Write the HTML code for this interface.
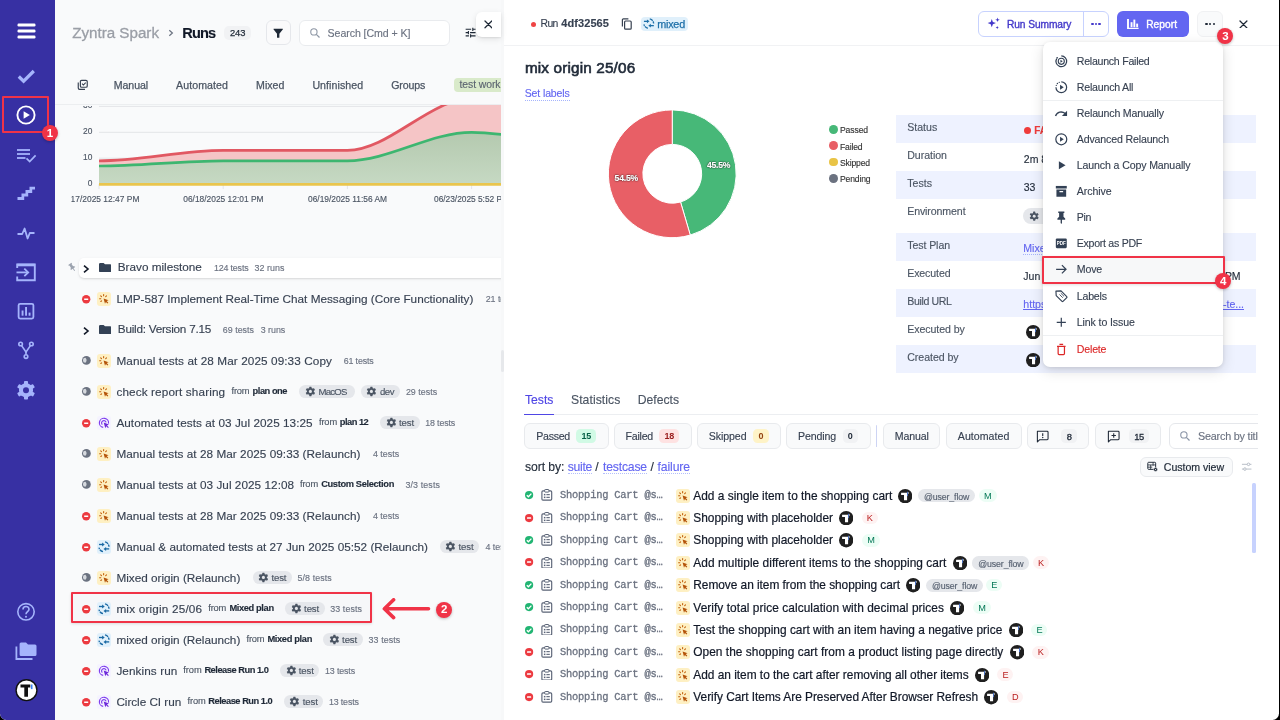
<!DOCTYPE html>
<html>
<head>
<meta charset="utf-8">
<title>Runs</title>
<style>
*{box-sizing:border-box;margin:0;padding:0}
html,body{width:1280px;height:720px;overflow:hidden;background:#000}
body{font-family:"Liberation Sans",sans-serif;color:#1f2937;position:relative}
.abs{position:absolute}
#app{position:absolute;left:0;top:0;width:1279px;height:720px;background:#fff;border-radius:0 0 6.5px 6.5px;overflow:hidden}
#side{position:absolute;left:0;top:0;width:55px;height:720px;background:#3730a3}
#side .badge{will-change:transform}
#leftbg{position:absolute;left:55px;top:0;width:446px;height:720px;background:#f9fafb}
#left{position:absolute;left:0;top:0;width:501px;height:720px;overflow:hidden;will-change:transform}
#split{position:absolute;left:500.5px;top:0;width:3.5px;height:720px;background:#f7f8f9}
#split i{position:absolute;left:.4px;top:349.8px;width:3.1px;height:22.4px;border-radius:1.6px;background:#e6e8eb}
#right{position:absolute;left:0;top:0;width:1258px;height:720px;overflow:hidden;will-change:transform}
#over{position:absolute;left:0;top:0;width:1279px;height:720px;will-change:transform}
#rightu{position:absolute;left:0;top:0;width:1279px;height:720px;will-change:transform}
.t{position:absolute;white-space:nowrap;line-height:1;-webkit-text-stroke:.14px}
.badge{position:absolute;width:16px;height:16px;border-radius:50%;background:#f03347;color:#fff;font-weight:bold;font-size:11.5px;line-height:16px;text-align:center;box-shadow:0 1px 3px rgba(0,0,0,.25)}
</style>
</head>
<body>
<div id="app">
<div id="leftbg"></div>
<div id="split"><i></i></div>
<div id="left">
<span class="t" style="left:72.20px;top:25.37px;font-size:15.2px;color:#9a9ea6;letter-spacing:-0.011px;-webkit-text-stroke:.3px;">Zyntra Spark</span>
<svg class="abs" style="left:168.00px;top:29.40px;" width="6" height="8" viewBox="0 0 6 8" fill="none"><path d="M1.3 1.2 L4.4 4 L1.3 6.8" stroke="#6b7280" stroke-width="1.2"/></svg>
<span class="t" style="left:182.30px;top:25.67px;font-size:14.6px;font-weight:700;color:#111827;letter-spacing:-0.871px;">Runs</span>
<div class="abs" style="left:224.40px;top:26.00px;width:26.90px;height:14.00px;background:#f1f2f4;border-radius:5px"></div>
<span class="t" style="left:229.90px;top:28.41px;font-size:9.4px;color:#1f2937;letter-spacing:0.015px;-webkit-text-stroke:.25px #1f2937;">243</span>
<div class="abs" style="left:265.50px;top:20.20px;width:25.20px;height:25.20px;background:#fafafb;border:1px solid #e5e7eb;border-radius:6px"></div>
<svg class="abs" style="left:271.90px;top:27.20px;" width="12.4" height="12.4" viewBox="0 0 24 24" fill="none"><path d="M3.2 3.5 H20.8 Q21.8 3.5 21.2 4.4 L14.3 13 V20.2 Q14.3 21 13.5 21 H10.5 Q9.7 21 9.7 20.2 V13 L2.8 4.4 Q2.2 3.5 3.2 3.5Z" fill="#1f2937"/></svg>
<div class="abs" style="left:299.00px;top:19.70px;width:150.60px;height:26.00px;background:#fff;border:1px solid #e9ebee;border-radius:6px"></div>
<svg class="abs" style="left:308.60px;top:27.30px;" width="12" height="12" viewBox="0 0 24 24" fill="none"><circle cx="9.8" cy="9.8" r="6.3" stroke="#8e97a5" stroke-width="2.2"/><path d="M14.6 14.6 L21 21" stroke="#8e97a5" stroke-width="2.4"/></svg>
<span class="t" style="left:327.60px;top:27.82px;font-size:10.6px;color:#6b7280;letter-spacing:-0.075px;">Search [Cmd + K]</span>
<svg class="abs" style="left:463.80px;top:26.10px;" width="13.2" height="13.2" viewBox="0 0 24 24" fill="none"><path d="M3 17v2h6v-2H3zM3 5v2h10V5H3zm10 16v-2h8v-2h-8v-2h-2v6h2zM7 9v2H3v2h4v2h2V9H7zm14 4v-2H11v2h10zm-6-4h2V7h4V5h-4V3h-2v6z" fill="#1f2937"/></svg>
<svg class="abs" style="left:77.20px;top:79.40px;" width="11.6" height="11.6" viewBox="0 0 24 24" fill="none"><path d="M2.6 7.5 V18.6 Q2.6 21.4 5.4 21.4 H16.5" stroke="#374151" stroke-width="2.4"/><rect x="7" y="2.8" width="14.2" height="14.2" rx="2.6" stroke="#374151" stroke-width="2.4"/><path d="M10.4 9.8 L13.2 12.6 L18 7.4" stroke="#374151" stroke-width="2.2"/></svg>
<span class="t" style="left:113.80px;top:79.82px;font-size:10.6px;color:#4b5563;letter-spacing:-0.092px;-webkit-text-stroke:.25px;">Manual</span>
<span class="t" style="left:176.10px;top:79.82px;font-size:10.6px;color:#4b5563;letter-spacing:0.072px;-webkit-text-stroke:.25px;">Automated</span>
<span class="t" style="left:256.10px;top:79.82px;font-size:10.6px;color:#4b5563;letter-spacing:-0.013px;-webkit-text-stroke:.25px;">Mixed</span>
<span class="t" style="left:312.40px;top:79.82px;font-size:10.6px;color:#4b5563;letter-spacing:0.074px;-webkit-text-stroke:.25px;">Unfinished</span>
<span class="t" style="left:391.20px;top:79.82px;font-size:10.6px;color:#4b5563;letter-spacing:-0.142px;-webkit-text-stroke:.25px;">Groups</span>
<div class="abs" style="left:454.00px;top:77.80px;width:66.00px;height:14.40px;background:#d9eaca;border-radius:4px"></div>
<span class="t" style="left:459.50px;top:79.82px;font-size:10.4px;color:#5b6470;letter-spacing:-0.075px;">test work</span>
<div class="abs" style="left:55px;top:104.1px;width:446px;height:110px;overflow:hidden;border-top:1px solid #eceef0">
<svg class="abs" style="left:0;top:0" width="446" height="110" viewBox="0 0 446 110" fill="none"><path d="M44.0 1.4 H446" stroke="#e3e5e8" stroke-width="1"/><path d="M44.0 27.3 H446" stroke="#e3e5e8" stroke-width="1"/><path d="M44.0 53.2 H446" stroke="#e3e5e8" stroke-width="1"/><path d="M44.0 79.1 H446" stroke="#e3e5e8" stroke-width="1"/><path d="M44.0 79.1 v5" stroke="#e3e5e8" stroke-width="1"/><path d="M168.2 79.1 v5" stroke="#e3e5e8" stroke-width="1"/><path d="M292.4 79.1 v5" stroke="#e3e5e8" stroke-width="1"/><path d="M416.6 79.1 v5" stroke="#e3e5e8" stroke-width="1"/><defs><clipPath id="cc"><rect x="44.0" y="-5" width="500" height="120"/></clipPath></defs><g clip-path="url(#cc)"><defs><linearGradient id="gg" x1="0" y1="0" x2="0" y2="1"><stop offset="0" stop-color="#b4c9af"/><stop offset="1" stop-color="#c6d9c3"/></linearGradient></defs><path d="M-80.2 55.8 C-38.8 55.8 2.6 55.8 44.0 55.8 C85.4 55.8 126.8 45.4 168.2 45.4 C209.6 45.4 251.0 45.4 292.4 45.4 C333.8 45.4 375.2 -6.4 416.6 -6.4 C458.0 -6.4 499.4 11.8 540.8 11.8 L540.8 79.1 L-80.2 79.1 Z" fill="#f5c5c6"/><path d="M-80.2 61.0 C-38.8 61.0 2.6 61.0 44.0 61.0 C85.4 61.0 126.8 55.8 168.2 55.8 C209.6 55.8 251.0 55.8 292.4 55.8 C333.8 55.8 375.2 27.3 416.6 27.3 C458.0 27.3 499.4 41.3 540.8 41.3 L540.8 79.1 L-80.2 79.1 Z" fill="url(#gg)"/><path d="M-80.2 55.8 C-38.8 55.8 2.6 55.8 44.0 55.8 C85.4 55.8 126.8 45.4 168.2 45.4 C209.6 45.4 251.0 45.4 292.4 45.4 C333.8 45.4 375.2 -6.4 416.6 -6.4 C458.0 -6.4 499.4 11.8 540.8 11.8" stroke="#e15862" stroke-width="2.7"/><path d="M-80.2 61.0 C-38.8 61.0 2.6 61.0 44.0 61.0 C85.4 61.0 126.8 55.8 168.2 55.8 C209.6 55.8 251.0 55.8 292.4 55.8 C333.8 55.8 375.2 27.3 416.6 27.3 C458.0 27.3 499.4 41.3 540.8 41.3" stroke="#3db670" stroke-width="2.7"/><path d="M44.0 79.4 H446" stroke="#e9c54d" stroke-width="2.7"/></g></svg>
</div>
<span class="t" style="left:83.10px;top:127.10px;font-size:8.4px;color:#4b5563;">20</span>
<span class="t" style="left:83.10px;top:153.10px;font-size:8.4px;color:#4b5563;">10</span>
<span class="t" style="left:87.75px;top:179.10px;font-size:8.4px;color:#4b5563;">0</span>
<div class="abs" style="left:80px;top:105.6px;width:14px;height:4px;overflow:hidden"><span class="t" style="left:3.1px;top:-4.6px;font-size:8.4px;color:#4b5563">30</span></div>
<span class="t" style="left:58.90px;top:195.30px;font-size:8.4px;color:#4b5563;letter-spacing:0.021px;clip-path:inset(0 0 0 12.6px);">06/17/2025 12:47 PM</span>
<span class="t" style="left:183.30px;top:195.30px;font-size:8.4px;color:#4b5563;letter-spacing:0.006px;">06/18/2025 12:01 PM</span>
<span class="t" style="left:308.00px;top:195.30px;font-size:8.4px;color:#4b5563;letter-spacing:-0.001px;">06/19/2025 11:56 AM</span>
<span class="t" style="left:434.00px;top:195.30px;font-size:8.4px;color:#4b5563;letter-spacing:-0.024px;">06/23/2025 5:52 PM</span>
<div class="abs" style="left:78.80px;top:258.00px;width:441.20px;height:20.00px;background:#fff;border-radius:5px;box-shadow:0 1px 3px rgba(0,0,0,.10),0 1px 2px rgba(0,0,0,.06)"></div>
<svg class="abs" style="left:67.25px;top:262.35px;" width="10.5" height="10.5" viewBox="0 0 24 24" fill="none"><g transform="rotate(-35 12 12)"><path d="M7.5 2.5 H16.5 V4.8 H15 V10.5 L18 13.8 V15.5 H13 V21 L12 22.5 L11 21 V15.5 H6 V13.8 L9 10.5 V4.8 H7.5 Z" fill="#9ca3af"/></g></svg>
<svg class="abs" style="left:81.80px;top:263.60px;" width="8" height="10" viewBox="0 0 8 10" fill="none"><path d="M2 1.6 L6 5 L2 8.4" stroke="#111827" stroke-width="1.6" stroke-linejoin="miter"/></svg>
<svg class="abs" style="left:99.00px;top:263.20px;" width="12.4" height="9.2" viewBox="0 0 12.4 9.2" fill="none"><path d="M0 1.3 Q0 0 1.3 0 H4.6 L6 1.3 H11.1 Q12.4 1.3 12.4 2.6 V7.9 Q12.4 9.2 11.1 9.2 H1.3 Q0 9.2 0 7.9Z" fill="#334155"/></svg>
<span class="t" style="left:117.80px;top:261.46px;font-size:11.75px;color:#374151;letter-spacing:-0.010px;">Bravo milestone</span>
<span class="t" style="left:213.90px;top:263.95px;font-size:8.9px;color:#6b7280;letter-spacing:-0.159px;">124 tests</span>
<span class="t" style="left:254.60px;top:263.95px;font-size:8.9px;color:#6b7280;letter-spacing:0.056px;">32 runs</span>
<svg class="abs" style="left:81.10px;top:293.55px;" width="10.4" height="10.4" viewBox="0 0 10.4 10.4" fill="none"><g transform="translate(1 1)"><circle cx="4.2" cy="4.2" r="4.2" fill="#ec3a40"/><rect x="2.1" y="3.45" width="4.2" height="1.5" rx="0.4" fill="#fff"/></g></svg><svg class="abs" style="left:97.10px;top:291.50px;" width="14" height="14" viewBox="0 0 14 14" fill="none"><rect width="14" height="14" rx="3" fill="#fef0c3"/><path d="M6.6 6.4 L11.6 8.2 L9.7 9.1 L11.3 10.8 L10.5 11.5 L8.9 9.9 L8 11.7Z" fill="#b45309"/><g stroke="#c2620c" stroke-width="1.1" stroke-linecap="round"><path d="M6.6 2.6v1.2"/><path d="M3.7 3.8l.8.8"/><path d="M2.6 6.7h1.2"/><path d="M3.8 9.5l.8-.7"/><path d="M9.5 3.8l-.8.8"/></g></svg>
<span class="t" style="left:116.40px;top:292.76px;font-size:11.75px;color:#374151;letter-spacing:0.003px;">LMP-587 Implement Real-Time Chat Messaging (Core Functionality)</span>
<span class="t" style="left:485.70px;top:294.95px;font-size:8.9px;color:#6b7280;letter-spacing:-0.037px;">21 tests</span>
<svg class="abs" style="left:81.80px;top:325.60px;" width="8" height="10" viewBox="0 0 8 10" fill="none"><path d="M2 1.6 L6 5 L2 8.4" stroke="#111827" stroke-width="1.6" stroke-linejoin="miter"/></svg>
<svg class="abs" style="left:99.00px;top:325.20px;" width="12.4" height="9.2" viewBox="0 0 12.4 9.2" fill="none"><path d="M0 1.3 Q0 0 1.3 0 H4.6 L6 1.3 H11.1 Q12.4 1.3 12.4 2.6 V7.9 Q12.4 9.2 11.1 9.2 H1.3 Q0 9.2 0 7.9Z" fill="#334155"/></svg>
<span class="t" style="left:117.80px;top:323.46px;font-size:11.75px;color:#374151;letter-spacing:-0.252px;">Build: Version 7.15</span>
<span class="t" style="left:222.70px;top:325.95px;font-size:8.9px;color:#6b7280;letter-spacing:0.038px;">69 tests</span>
<span class="t" style="left:260.70px;top:325.95px;font-size:8.9px;color:#6b7280;letter-spacing:-0.012px;">3 runs</span>
<svg class="abs" style="left:80.90px;top:355.35px;" width="10.8" height="10.8" viewBox="0 0 10.8 10.8" fill="none"><g transform="translate(1 1)"><circle cx="4.4" cy="4.4" r="4.4" fill="#6b7280"/><path d="M3.5000000000000004 1.7000000000000002 a2.5 2.5 0 1 0 0 5 a3.8 3.8 0 0 0 0 -5Z" fill="#d6d9de"/></g></svg><svg class="abs" style="left:97.10px;top:353.50px;" width="14" height="14" viewBox="0 0 14 14" fill="none"><rect width="14" height="14" rx="3" fill="#fef0c3"/><path d="M6.6 6.4 L11.6 8.2 L9.7 9.1 L11.3 10.8 L10.5 11.5 L8.9 9.9 L8 11.7Z" fill="#b45309"/><g stroke="#c2620c" stroke-width="1.1" stroke-linecap="round"><path d="M6.6 2.6v1.2"/><path d="M3.7 3.8l.8.8"/><path d="M2.6 6.7h1.2"/><path d="M3.8 9.5l.8-.7"/><path d="M9.5 3.8l-.8.8"/></g></svg>
<span class="t" style="left:116.40px;top:354.76px;font-size:11.75px;color:#374151;letter-spacing:0.087px;">Manual tests at 28 Mar 2025 09:33 Copy</span>
<span class="t" style="left:343.70px;top:356.95px;font-size:8.9px;color:#6b7280;letter-spacing:-0.149px;">61 tests</span>
<svg class="abs" style="left:80.90px;top:386.35px;" width="10.8" height="10.8" viewBox="0 0 10.8 10.8" fill="none"><g transform="translate(1 1)"><circle cx="4.4" cy="4.4" r="4.4" fill="#6b7280"/><path d="M3.5000000000000004 1.7000000000000002 a2.5 2.5 0 1 0 0 5 a3.8 3.8 0 0 0 0 -5Z" fill="#d6d9de"/></g></svg><svg class="abs" style="left:97.10px;top:384.50px;" width="14" height="14" viewBox="0 0 14 14" fill="none"><rect width="14" height="14" rx="3" fill="#fef0c3"/><path d="M6.6 6.4 L11.6 8.2 L9.7 9.1 L11.3 10.8 L10.5 11.5 L8.9 9.9 L8 11.7Z" fill="#b45309"/><g stroke="#c2620c" stroke-width="1.1" stroke-linecap="round"><path d="M6.6 2.6v1.2"/><path d="M3.7 3.8l.8.8"/><path d="M2.6 6.7h1.2"/><path d="M3.8 9.5l.8-.7"/><path d="M9.5 3.8l-.8.8"/></g></svg>
<span class="t" style="left:116.40px;top:385.76px;font-size:11.75px;color:#374151;letter-spacing:0.117px;">check report sharing</span>
<span class="t" style="left:231.50px;top:387.16px;font-size:9.3px;color:#4b5563;letter-spacing:-0.177px;">from</span><span class="t" style="left:252.60px;top:387.16px;font-size:9.3px;font-weight:700;color:#1f2937;letter-spacing:-0.479px;">plan one</span>
<div class="abs" style="left:299.00px;top:385.20px;width:55.60px;height:12.80px;background:#e5e7eb;border-radius:6.4px"></div>
<svg class="abs" style="left:304.50px;top:386.30px;" width="10.8" height="10.8" viewBox="0 0 24 24" fill="none"><g transform="translate(12 12)"><g fill="#4b5563"><circle r="7.6"/><rect x="-2.6" y="-10.6" width="5.2" height="21.2" rx="1"/><rect x="-2.6" y="-10.6" width="5.2" height="21.2" rx="1" transform="rotate(60)"/><rect x="-2.6" y="-10.6" width="5.2" height="21.2" rx="1" transform="rotate(120)"/></g><circle r="3.4" fill="#e5e7eb"/></g></svg>
<span class="t" style="left:318.40px;top:387.21px;font-size:9.6px;color:#4b5563;letter-spacing:-0.720px;">MacOS</span>
<div class="abs" style="left:360.90px;top:385.20px;width:39.10px;height:12.80px;background:#e5e7eb;border-radius:6.4px"></div>
<svg class="abs" style="left:366.40px;top:386.30px;" width="10.8" height="10.8" viewBox="0 0 24 24" fill="none"><g transform="translate(12 12)"><g fill="#4b5563"><circle r="7.6"/><rect x="-2.6" y="-10.6" width="5.2" height="21.2" rx="1"/><rect x="-2.6" y="-10.6" width="5.2" height="21.2" rx="1" transform="rotate(60)"/><rect x="-2.6" y="-10.6" width="5.2" height="21.2" rx="1" transform="rotate(120)"/></g><circle r="3.4" fill="#e5e7eb"/></g></svg>
<span class="t" style="left:379.90px;top:387.21px;font-size:9.6px;color:#4b5563;letter-spacing:-0.456px;">dev</span>
<span class="t" style="left:405.90px;top:387.95px;font-size:8.9px;color:#6b7280;letter-spacing:0.026px;">29 tests</span>
<svg class="abs" style="left:81.10px;top:417.55px;" width="10.4" height="10.4" viewBox="0 0 10.4 10.4" fill="none"><g transform="translate(1 1)"><circle cx="4.2" cy="4.2" r="4.2" fill="#ec3a40"/><rect x="2.1" y="3.45" width="4.2" height="1.5" rx="0.4" fill="#fff"/></g></svg><svg class="abs" style="left:97.10px;top:415.50px;" width="14" height="14" viewBox="0 0 14 14" fill="none"><rect width="14" height="14" rx="3" fill="#f5f3ff"/><g stroke="#7c3aed" stroke-width="1.15" fill="none"><path d="M6.2 11.4 A4.6 4.6 0 1 1 11.5 7.6"/><path d="M5.3 8.6 A2.3 2.3 0 1 1 9.1 6.3"/></g><path d="M6.7 6.6 L11.9 8.6 L10 9.5 L11.8 11.3 L11 12.1 L9.2 10.3 L8.3 12.2Z" fill="#6d28d9"/></svg>
<span class="t" style="left:116.40px;top:416.76px;font-size:11.75px;color:#374151;letter-spacing:0.045px;">Automated tests at 03 Jul 2025 13:25</span>
<span class="t" style="left:319.00px;top:418.16px;font-size:9.3px;color:#4b5563;letter-spacing:-0.152px;">from</span><span class="t" style="left:339.80px;top:418.16px;font-size:9.3px;font-weight:700;color:#1f2937;letter-spacing:-0.507px;">plan 12</span>
<div class="abs" style="left:380.20px;top:416.20px;width:39.40px;height:12.80px;background:#e5e7eb;border-radius:6.4px"></div><svg class="abs" style="left:385.70px;top:417.30px;" width="10.8" height="10.8" viewBox="0 0 24 24" fill="none"><g transform="translate(12 12)"><g fill="#4b5563"><circle r="7.6"/><rect x="-2.6" y="-10.6" width="5.2" height="21.2" rx="1"/><rect x="-2.6" y="-10.6" width="5.2" height="21.2" rx="1" transform="rotate(60)"/><rect x="-2.6" y="-10.6" width="5.2" height="21.2" rx="1" transform="rotate(120)"/></g><circle r="3.4" fill="#e5e7eb"/></g></svg><span class="t" style="left:399.00px;top:418.21px;font-size:9.6px;color:#4b5563;letter-spacing:-0.117px;">test</span>
<span class="t" style="left:425.20px;top:418.95px;font-size:8.9px;color:#6b7280;letter-spacing:-0.149px;">18 tests</span>
<svg class="abs" style="left:80.90px;top:448.35px;" width="10.8" height="10.8" viewBox="0 0 10.8 10.8" fill="none"><g transform="translate(1 1)"><circle cx="4.4" cy="4.4" r="4.4" fill="#6b7280"/><path d="M3.5000000000000004 1.7000000000000002 a2.5 2.5 0 1 0 0 5 a3.8 3.8 0 0 0 0 -5Z" fill="#d6d9de"/></g></svg><svg class="abs" style="left:97.10px;top:446.50px;" width="14" height="14" viewBox="0 0 14 14" fill="none"><rect width="14" height="14" rx="3" fill="#fef0c3"/><path d="M6.6 6.4 L11.6 8.2 L9.7 9.1 L11.3 10.8 L10.5 11.5 L8.9 9.9 L8 11.7Z" fill="#b45309"/><g stroke="#c2620c" stroke-width="1.1" stroke-linecap="round"><path d="M6.6 2.6v1.2"/><path d="M3.7 3.8l.8.8"/><path d="M2.6 6.7h1.2"/><path d="M3.8 9.5l.8-.7"/><path d="M9.5 3.8l-.8.8"/></g></svg>
<span class="t" style="left:116.40px;top:447.76px;font-size:11.75px;color:#374151;letter-spacing:0.040px;">Manual tests at 28 Mar 2025 09:33 (Relaunch)</span>
<span class="t" style="left:372.90px;top:449.95px;font-size:8.9px;color:#6b7280;letter-spacing:0.021px;">4 tests</span>
<svg class="abs" style="left:80.90px;top:479.35px;" width="10.8" height="10.8" viewBox="0 0 10.8 10.8" fill="none"><g transform="translate(1 1)"><circle cx="4.4" cy="4.4" r="4.4" fill="#6b7280"/><path d="M3.5000000000000004 1.7000000000000002 a2.5 2.5 0 1 0 0 5 a3.8 3.8 0 0 0 0 -5Z" fill="#d6d9de"/></g></svg><svg class="abs" style="left:97.10px;top:477.50px;" width="14" height="14" viewBox="0 0 14 14" fill="none"><rect width="14" height="14" rx="3" fill="#fef0c3"/><path d="M6.6 6.4 L11.6 8.2 L9.7 9.1 L11.3 10.8 L10.5 11.5 L8.9 9.9 L8 11.7Z" fill="#b45309"/><g stroke="#c2620c" stroke-width="1.1" stroke-linecap="round"><path d="M6.6 2.6v1.2"/><path d="M3.7 3.8l.8.8"/><path d="M2.6 6.7h1.2"/><path d="M3.8 9.5l.8-.7"/><path d="M9.5 3.8l-.8.8"/></g></svg>
<span class="t" style="left:116.40px;top:478.76px;font-size:11.75px;color:#374151;letter-spacing:0.040px;">Manual tests at 03 Jul 2025 12:08</span>
<span class="t" style="left:300.00px;top:480.16px;font-size:9.3px;color:#4b5563;letter-spacing:-0.152px;">from</span><span class="t" style="left:321.20px;top:480.16px;font-size:9.3px;font-weight:700;color:#1f2937;letter-spacing:-0.358px;">Custom Selection</span>
<span class="t" style="left:405.50px;top:480.95px;font-size:8.9px;color:#6b7280;letter-spacing:0.106px;">3/3 tests</span>
<svg class="abs" style="left:81.10px;top:510.55px;" width="10.4" height="10.4" viewBox="0 0 10.4 10.4" fill="none"><g transform="translate(1 1)"><circle cx="4.2" cy="4.2" r="4.2" fill="#ec3a40"/><rect x="2.1" y="3.45" width="4.2" height="1.5" rx="0.4" fill="#fff"/></g></svg><svg class="abs" style="left:97.10px;top:508.50px;" width="14" height="14" viewBox="0 0 14 14" fill="none"><rect width="14" height="14" rx="3" fill="#fef0c3"/><path d="M6.6 6.4 L11.6 8.2 L9.7 9.1 L11.3 10.8 L10.5 11.5 L8.9 9.9 L8 11.7Z" fill="#b45309"/><g stroke="#c2620c" stroke-width="1.1" stroke-linecap="round"><path d="M6.6 2.6v1.2"/><path d="M3.7 3.8l.8.8"/><path d="M2.6 6.7h1.2"/><path d="M3.8 9.5l.8-.7"/><path d="M9.5 3.8l-.8.8"/></g></svg>
<span class="t" style="left:116.40px;top:509.76px;font-size:11.75px;color:#374151;letter-spacing:0.040px;">Manual tests at 28 Mar 2025 09:33 (Relaunch)</span>
<span class="t" style="left:372.90px;top:511.95px;font-size:8.9px;color:#6b7280;letter-spacing:0.021px;">4 tests</span>
<svg class="abs" style="left:81.10px;top:541.55px;" width="10.4" height="10.4" viewBox="0 0 10.4 10.4" fill="none"><g transform="translate(1 1)"><circle cx="4.2" cy="4.2" r="4.2" fill="#ec3a40"/><rect x="2.1" y="3.45" width="4.2" height="1.5" rx="0.4" fill="#fff"/></g></svg><svg class="abs" style="left:97.10px;top:539.50px;" width="14" height="14" viewBox="0 0 14 14" fill="none"><rect width="14" height="14" rx="3" fill="#e0f0fb"/><g stroke="#1a69a4" stroke-width="1.35" fill="none"><path d="M2 4.5 H6"/><path d="M12.2 8.9 H8.2"/><path d="M8 1.9 A5.1 5.1 0 0 1 12 6.7" stroke-dasharray="3.6 0.7"/><path d="M6 11.6 A5.1 5.1 0 0 1 2 7.7" stroke-dasharray="3.6 0.7"/></g><path d="M5.1 2.5 L7.7 4.5 L5.1 6.5Z" fill="#1a69a4"/><path d="M9.1 6.9 L6.5 8.9 L9.1 10.9Z" fill="#1a69a4"/></svg>
<span class="t" style="left:116.40px;top:540.76px;font-size:11.75px;color:#374151;letter-spacing:0.012px;">Manual &amp; automated tests at 27 Jun 2025 05:52 (Relaunch)</span>
<div class="abs" style="left:439.70px;top:540.20px;width:39.40px;height:12.80px;background:#e5e7eb;border-radius:6.4px"></div><svg class="abs" style="left:445.20px;top:541.30px;" width="10.8" height="10.8" viewBox="0 0 24 24" fill="none"><g transform="translate(12 12)"><g fill="#4b5563"><circle r="7.6"/><rect x="-2.6" y="-10.6" width="5.2" height="21.2" rx="1"/><rect x="-2.6" y="-10.6" width="5.2" height="21.2" rx="1" transform="rotate(60)"/><rect x="-2.6" y="-10.6" width="5.2" height="21.2" rx="1" transform="rotate(120)"/></g><circle r="3.4" fill="#e5e7eb"/></g></svg><span class="t" style="left:458.50px;top:542.21px;font-size:9.6px;color:#4b5563;letter-spacing:-0.117px;">test</span>
<span class="t" style="left:485.40px;top:542.95px;font-size:8.9px;color:#6b7280;letter-spacing:0.021px;">4 tests</span>
<svg class="abs" style="left:80.90px;top:572.35px;" width="10.8" height="10.8" viewBox="0 0 10.8 10.8" fill="none"><g transform="translate(1 1)"><circle cx="4.4" cy="4.4" r="4.4" fill="#6b7280"/><path d="M3.5000000000000004 1.7000000000000002 a2.5 2.5 0 1 0 0 5 a3.8 3.8 0 0 0 0 -5Z" fill="#d6d9de"/></g></svg><svg class="abs" style="left:97.10px;top:570.50px;" width="14" height="14" viewBox="0 0 14 14" fill="none"><rect width="14" height="14" rx="3" fill="#fef0c3"/><path d="M6.6 6.4 L11.6 8.2 L9.7 9.1 L11.3 10.8 L10.5 11.5 L8.9 9.9 L8 11.7Z" fill="#b45309"/><g stroke="#c2620c" stroke-width="1.1" stroke-linecap="round"><path d="M6.6 2.6v1.2"/><path d="M3.7 3.8l.8.8"/><path d="M2.6 6.7h1.2"/><path d="M3.8 9.5l.8-.7"/><path d="M9.5 3.8l-.8.8"/></g></svg>
<span class="t" style="left:116.40px;top:571.76px;font-size:11.75px;color:#374151;letter-spacing:-0.008px;">Mixed origin (Relaunch)</span>
<div class="abs" style="left:252.60px;top:571.20px;width:39.40px;height:12.80px;background:#e5e7eb;border-radius:6.4px"></div><svg class="abs" style="left:258.10px;top:572.30px;" width="10.8" height="10.8" viewBox="0 0 24 24" fill="none"><g transform="translate(12 12)"><g fill="#4b5563"><circle r="7.6"/><rect x="-2.6" y="-10.6" width="5.2" height="21.2" rx="1"/><rect x="-2.6" y="-10.6" width="5.2" height="21.2" rx="1" transform="rotate(60)"/><rect x="-2.6" y="-10.6" width="5.2" height="21.2" rx="1" transform="rotate(120)"/></g><circle r="3.4" fill="#e5e7eb"/></g></svg><span class="t" style="left:271.40px;top:573.21px;font-size:9.6px;color:#4b5563;letter-spacing:-0.117px;">test</span>
<span class="t" style="left:297.60px;top:573.95px;font-size:8.9px;color:#6b7280;letter-spacing:0.061px;">5/8 tests</span>
<div class="abs" style="left:71.50px;top:593.00px;width:300.80px;height:30.40px;background:#f6f7f9"></div>
<svg class="abs" style="left:81.10px;top:603.55px;" width="10.4" height="10.4" viewBox="0 0 10.4 10.4" fill="none"><g transform="translate(1 1)"><circle cx="4.2" cy="4.2" r="4.2" fill="#ec3a40"/><rect x="2.1" y="3.45" width="4.2" height="1.5" rx="0.4" fill="#fff"/></g></svg><svg class="abs" style="left:97.10px;top:601.50px;" width="14" height="14" viewBox="0 0 14 14" fill="none"><rect width="14" height="14" rx="3" fill="#e0f0fb"/><g stroke="#1a69a4" stroke-width="1.35" fill="none"><path d="M2 4.5 H6"/><path d="M12.2 8.9 H8.2"/><path d="M8 1.9 A5.1 5.1 0 0 1 12 6.7" stroke-dasharray="3.6 0.7"/><path d="M6 11.6 A5.1 5.1 0 0 1 2 7.7" stroke-dasharray="3.6 0.7"/></g><path d="M5.1 2.5 L7.7 4.5 L5.1 6.5Z" fill="#1a69a4"/><path d="M9.1 6.9 L6.5 8.9 L9.1 10.9Z" fill="#1a69a4"/></svg>
<span class="t" style="left:116.40px;top:602.76px;font-size:11.75px;color:#374151;letter-spacing:0.184px;">mix origin 25/06</span>
<span class="t" style="left:208.30px;top:604.16px;font-size:9.3px;color:#4b5563;letter-spacing:-0.177px;">from</span><span class="t" style="left:229.40px;top:604.16px;font-size:9.3px;font-weight:700;color:#1f2937;letter-spacing:-0.375px;">Mixed plan</span>
<div class="abs" style="left:285.30px;top:602.20px;width:39.40px;height:12.80px;background:#e5e7eb;border-radius:6.4px"></div><svg class="abs" style="left:290.80px;top:603.30px;" width="10.8" height="10.8" viewBox="0 0 24 24" fill="none"><g transform="translate(12 12)"><g fill="#4b5563"><circle r="7.6"/><rect x="-2.6" y="-10.6" width="5.2" height="21.2" rx="1"/><rect x="-2.6" y="-10.6" width="5.2" height="21.2" rx="1" transform="rotate(60)"/><rect x="-2.6" y="-10.6" width="5.2" height="21.2" rx="1" transform="rotate(120)"/></g><circle r="3.4" fill="#e5e7eb"/></g></svg><span class="t" style="left:304.10px;top:604.21px;font-size:9.6px;color:#4b5563;letter-spacing:-0.117px;">test</span>
<span class="t" style="left:330.30px;top:604.95px;font-size:8.9px;color:#6b7280;letter-spacing:0.076px;">33 tests</span>
<svg class="abs" style="left:81.10px;top:634.55px;" width="10.4" height="10.4" viewBox="0 0 10.4 10.4" fill="none"><g transform="translate(1 1)"><circle cx="4.2" cy="4.2" r="4.2" fill="#ec3a40"/><rect x="2.1" y="3.45" width="4.2" height="1.5" rx="0.4" fill="#fff"/></g></svg><svg class="abs" style="left:97.10px;top:632.50px;" width="14" height="14" viewBox="0 0 14 14" fill="none"><rect width="14" height="14" rx="3" fill="#e0f0fb"/><g stroke="#1a69a4" stroke-width="1.35" fill="none"><path d="M2 4.5 H6"/><path d="M12.2 8.9 H8.2"/><path d="M8 1.9 A5.1 5.1 0 0 1 12 6.7" stroke-dasharray="3.6 0.7"/><path d="M6 11.6 A5.1 5.1 0 0 1 2 7.7" stroke-dasharray="3.6 0.7"/></g><path d="M5.1 2.5 L7.7 4.5 L5.1 6.5Z" fill="#1a69a4"/><path d="M9.1 6.9 L6.5 8.9 L9.1 10.9Z" fill="#1a69a4"/></svg>
<span class="t" style="left:116.40px;top:633.76px;font-size:11.75px;color:#374151;letter-spacing:-0.008px;">mixed origin (Relaunch)</span>
<span class="t" style="left:246.60px;top:635.16px;font-size:9.3px;color:#4b5563;letter-spacing:-0.252px;">from</span><span class="t" style="left:267.40px;top:635.16px;font-size:9.3px;font-weight:700;color:#1f2937;letter-spacing:-0.345px;">Mixed plan</span>
<div class="abs" style="left:323.30px;top:633.20px;width:39.40px;height:12.80px;background:#e5e7eb;border-radius:6.4px"></div><svg class="abs" style="left:328.80px;top:634.30px;" width="10.8" height="10.8" viewBox="0 0 24 24" fill="none"><g transform="translate(12 12)"><g fill="#4b5563"><circle r="7.6"/><rect x="-2.6" y="-10.6" width="5.2" height="21.2" rx="1"/><rect x="-2.6" y="-10.6" width="5.2" height="21.2" rx="1" transform="rotate(60)"/><rect x="-2.6" y="-10.6" width="5.2" height="21.2" rx="1" transform="rotate(120)"/></g><circle r="3.4" fill="#e5e7eb"/></g></svg><span class="t" style="left:342.10px;top:635.21px;font-size:9.6px;color:#4b5563;letter-spacing:-0.117px;">test</span>
<span class="t" style="left:368.60px;top:635.95px;font-size:8.9px;color:#6b7280;letter-spacing:0.076px;">33 tests</span>
<svg class="abs" style="left:81.10px;top:665.55px;" width="10.4" height="10.4" viewBox="0 0 10.4 10.4" fill="none"><g transform="translate(1 1)"><circle cx="4.2" cy="4.2" r="4.2" fill="#ec3a40"/><rect x="2.1" y="3.45" width="4.2" height="1.5" rx="0.4" fill="#fff"/></g></svg><svg class="abs" style="left:97.10px;top:663.50px;" width="14" height="14" viewBox="0 0 14 14" fill="none"><rect width="14" height="14" rx="3" fill="#f5f3ff"/><g stroke="#7c3aed" stroke-width="1.15" fill="none"><path d="M6.2 11.4 A4.6 4.6 0 1 1 11.5 7.6"/><path d="M5.3 8.6 A2.3 2.3 0 1 1 9.1 6.3"/></g><path d="M6.7 6.6 L11.9 8.6 L10 9.5 L11.8 11.3 L11 12.1 L9.2 10.3 L8.3 12.2Z" fill="#6d28d9"/></svg>
<span class="t" style="left:116.40px;top:664.76px;font-size:11.75px;color:#374151;letter-spacing:0.082px;">Jenkins run</span>
<span class="t" style="left:183.30px;top:666.16px;font-size:9.3px;color:#4b5563;letter-spacing:-0.077px;">from</span><span class="t" style="left:204.40px;top:666.16px;font-size:9.3px;font-weight:700;color:#1f2937;letter-spacing:-0.488px;">Release Run 1.0</span>
<div class="abs" style="left:280.00px;top:664.20px;width:39.40px;height:12.80px;background:#e5e7eb;border-radius:6.4px"></div><svg class="abs" style="left:285.50px;top:665.30px;" width="10.8" height="10.8" viewBox="0 0 24 24" fill="none"><g transform="translate(12 12)"><g fill="#4b5563"><circle r="7.6"/><rect x="-2.6" y="-10.6" width="5.2" height="21.2" rx="1"/><rect x="-2.6" y="-10.6" width="5.2" height="21.2" rx="1" transform="rotate(60)"/><rect x="-2.6" y="-10.6" width="5.2" height="21.2" rx="1" transform="rotate(120)"/></g><circle r="3.4" fill="#e5e7eb"/></g></svg><span class="t" style="left:298.80px;top:666.21px;font-size:9.6px;color:#4b5563;letter-spacing:-0.117px;">test</span>
<span class="t" style="left:325.00px;top:666.95px;font-size:8.9px;color:#6b7280;letter-spacing:-0.137px;">13 tests</span>
<svg class="abs" style="left:81.10px;top:696.55px;" width="10.4" height="10.4" viewBox="0 0 10.4 10.4" fill="none"><g transform="translate(1 1)"><circle cx="4.2" cy="4.2" r="4.2" fill="#ec3a40"/><rect x="2.1" y="3.45" width="4.2" height="1.5" rx="0.4" fill="#fff"/></g></svg><svg class="abs" style="left:97.10px;top:694.50px;" width="14" height="14" viewBox="0 0 14 14" fill="none"><rect width="14" height="14" rx="3" fill="#f5f3ff"/><g stroke="#7c3aed" stroke-width="1.15" fill="none"><path d="M6.2 11.4 A4.6 4.6 0 1 1 11.5 7.6"/><path d="M5.3 8.6 A2.3 2.3 0 1 1 9.1 6.3"/></g><path d="M6.7 6.6 L11.9 8.6 L10 9.5 L11.8 11.3 L11 12.1 L9.2 10.3 L8.3 12.2Z" fill="#6d28d9"/></svg>
<span class="t" style="left:116.40px;top:695.76px;font-size:11.75px;color:#374151;letter-spacing:-0.038px;">Circle CI run</span>
<span class="t" style="left:187.60px;top:697.16px;font-size:9.3px;color:#4b5563;letter-spacing:-0.177px;">from</span><span class="t" style="left:208.30px;top:697.16px;font-size:9.3px;font-weight:700;color:#1f2937;letter-spacing:-0.487px;">Release Run 1.0</span>
<div class="abs" style="left:283.90px;top:695.20px;width:39.40px;height:12.80px;background:#e5e7eb;border-radius:6.4px"></div><svg class="abs" style="left:289.40px;top:696.30px;" width="10.8" height="10.8" viewBox="0 0 24 24" fill="none"><g transform="translate(12 12)"><g fill="#4b5563"><circle r="7.6"/><rect x="-2.6" y="-10.6" width="5.2" height="21.2" rx="1"/><rect x="-2.6" y="-10.6" width="5.2" height="21.2" rx="1" transform="rotate(60)"/><rect x="-2.6" y="-10.6" width="5.2" height="21.2" rx="1" transform="rotate(120)"/></g><circle r="3.4" fill="#e5e7eb"/></g></svg><span class="t" style="left:302.70px;top:697.21px;font-size:9.6px;color:#4b5563;letter-spacing:-0.117px;">test</span>
<span class="t" style="left:328.90px;top:697.95px;font-size:8.9px;color:#6b7280;letter-spacing:-0.149px;">13 tests</span>
</div>
<div id="right">
<span class="t" style="left:524.90px;top:59.73px;font-size:15.3px;color:#1f2937;letter-spacing:0.151px;-webkit-text-stroke:.62px;">mix origin 25/06</span>
<span class="t" style="left:524.70px;top:88.07px;font-size:10.5px;color:#6366f1;letter-spacing:-0.113px;">Set labels</span>
<div class="abs" style="left:524.70px;top:100.20px;width:45.00px;height:1.00px;border-top:1px dotted #a5b4fc"></div>
<svg class="abs" style="left:0;top:0" width="900" height="260" viewBox="0 0 900 260" fill="none"><path d="M672.25 109.90 A63.9 63.9 0 0 1 690.27 235.11 L680.54 202.01 A29.4 29.4 0 0 0 672.25 144.40 Z" fill="#47b878" stroke="#fff" stroke-width="1"/><path d="M690.27 235.11 A63.9 63.9 0 1 1 672.25 109.90 L672.25 144.40 A29.4 29.4 0 1 0 680.54 202.01 Z" fill="#e85f66" stroke="#fff" stroke-width="1"/></svg><span class="t" style="left:706.90px;top:160.80px;font-size:8.6px;font-weight:700;color:#fff;letter-spacing:-0.215px;text-shadow:0 0 2px rgba(0,0,0,.75),0 0 1px rgba(0,0,0,.6);">45.5%</span><span class="t" style="left:614.60px;top:173.80px;font-size:8.6px;font-weight:700;color:#fff;letter-spacing:-0.195px;text-shadow:0 0 2px rgba(0,0,0,.75),0 0 1px rgba(0,0,0,.6);">54.5%</span><div class="abs" style="left:828.90px;top:124.90px;width:8.80px;height:8.80px;background:#47b878;border-radius:50%"></div><span class="t" style="left:840.00px;top:126.30px;font-size:8.6px;color:#333;letter-spacing:-0.112px;">Passed</span><div class="abs" style="left:828.90px;top:141.10px;width:8.80px;height:8.80px;background:#e85f66;border-radius:50%"></div><span class="t" style="left:840.00px;top:142.50px;font-size:8.6px;color:#333;letter-spacing:-0.151px;">Failed</span><div class="abs" style="left:828.90px;top:157.60px;width:8.80px;height:8.80px;background:#e9c446;border-radius:50%"></div><span class="t" style="left:840.00px;top:159.00px;font-size:8.6px;color:#333;letter-spacing:-0.152px;">Skipped</span><div class="abs" style="left:828.90px;top:173.90px;width:8.80px;height:8.80px;background:#6b7280;border-radius:50%"></div><span class="t" style="left:840.00px;top:175.30px;font-size:8.6px;color:#333;letter-spacing:-0.150px;">Pending</span>
<div class="abs" style="left:895.50px;top:114.50px;width:360.50px;height:28.00px;background:#eef2ff"></div>
<span class="t" style="left:907.20px;top:122.32px;font-size:10.6px;color:#4b5563;letter-spacing:-0.008px;">Status</span>
<span class="t" style="left:907.20px;top:150.32px;font-size:10.6px;color:#4b5563;letter-spacing:-0.043px;">Duration</span>
<div class="abs" style="left:895.50px;top:170.50px;width:360.50px;height:28.00px;background:#eef2ff"></div>
<span class="t" style="left:907.20px;top:178.32px;font-size:10.6px;color:#4b5563;letter-spacing:0.053px;">Tests</span>
<span class="t" style="left:907.20px;top:206.32px;font-size:10.6px;color:#4b5563;letter-spacing:-0.108px;">Environment</span>
<div class="abs" style="left:895.50px;top:232.50px;width:360.50px;height:28.00px;background:#eef2ff"></div>
<span class="t" style="left:907.20px;top:239.82px;font-size:10.6px;color:#4b5563;letter-spacing:-0.086px;">Test Plan</span>
<span class="t" style="left:907.20px;top:267.82px;font-size:10.6px;color:#4b5563;letter-spacing:-0.109px;">Executed</span>
<div class="abs" style="left:895.50px;top:288.50px;width:360.50px;height:28.00px;background:#eef2ff"></div>
<span class="t" style="left:907.20px;top:295.82px;font-size:10.6px;color:#4b5563;letter-spacing:-0.367px;">Build URL</span>
<span class="t" style="left:907.20px;top:323.82px;font-size:10.6px;color:#4b5563;letter-spacing:-0.065px;">Executed by</span>
<div class="abs" style="left:895.50px;top:344.50px;width:360.50px;height:28.00px;background:#eef2ff"></div>
<span class="t" style="left:907.20px;top:351.82px;font-size:10.6px;color:#4b5563;letter-spacing:-0.043px;">Created by</span>
<div class="abs" style="left:1023.80px;top:126.60px;width:7.60px;height:7.60px;background:#ef3b3b;border-radius:50%"></div>
<span class="t" style="left:1034.30px;top:125.61px;font-size:10px;font-weight:700;color:#ef3b3b;">FAILED</span>
<span class="t" style="left:1023.80px;top:153.57px;font-size:10.5px;color:#1f2937;">2m 8s</span>
<span class="t" style="left:1023.80px;top:181.57px;font-size:10.5px;color:#1f2937;letter-spacing:-0.144px;">33</span>
<div class="abs" style="left:1023.10px;top:208.00px;width:46.90px;height:15.70px;background:#e5e7eb;border-radius:8px"></div>
<svg class="abs" style="left:1029.20px;top:211.00px;" width="10.4" height="10.4" viewBox="0 0 24 24" fill="none"><g transform="translate(12 12)"><g fill="#4b5563"><circle r="7.6"/><rect x="-2.6" y="-10.6" width="5.2" height="21.2" rx="1"/><rect x="-2.6" y="-10.6" width="5.2" height="21.2" rx="1" transform="rotate(60)"/><rect x="-2.6" y="-10.6" width="5.2" height="21.2" rx="1" transform="rotate(120)"/></g><circle r="3.4" fill="#e5e7eb"/></g></svg>
<span class="t" style="left:1023.30px;top:242.62px;font-size:10.6px;color:#6366f1;">Mixed plan</span>
<div class="abs" style="left:1023.30px;top:253.60px;width:46.70px;height:1.00px;border-top:1px dotted #a5b4fc"></div>
<span class="t" style="left:1023.30px;top:271.17px;font-size:10.5px;color:#1f2937;">Jun 25, 2025</span>
<span class="t" style="left:1225.00px;top:271.17px;font-size:10.5px;color:#1f2937;letter-spacing:-0.375px;">PM</span>
<span class="t" style="left:1023.30px;top:298.62px;font-size:10.6px;color:#6366f1;">https:</span>
<div class="abs" style="left:1023.30px;top:309.40px;width:36.70px;height:1.00px;background:#6366f1"></div>
<span class="t" style="left:1223.00px;top:298.62px;font-size:10.6px;color:#6366f1;letter-spacing:-0.034px;">-te...</span>
<div class="abs" style="left:1223.00px;top:309.40px;width:21.00px;height:1.00px;background:#6366f1"></div>
<svg class="abs" style="left:1025.80px;top:324.90px;" width="14.4" height="14.4" viewBox="-7.2 -7.2 14.4 14.4" fill="none"><circle r="7.2" fill="#1f1f1f"/><path d="M-4.1 -3.5 H1.9 V4.1 H-1.2 V-1.2 H-4.1Z" fill="#fff"/><rect x="1.9" y="-4.5" width=".8" height="4.4" fill="#4f7fe0"/><rect x="3.1" y="-4" width=".6" height="1.6" fill="#fff"/></svg>
<svg class="abs" style="left:1025.80px;top:353.00px;" width="14.4" height="14.4" viewBox="-7.2 -7.2 14.4 14.4" fill="none"><circle r="7.2" fill="#1f1f1f"/><path d="M-4.1 -3.5 H1.9 V4.1 H-1.2 V-1.2 H-4.1Z" fill="#fff"/><rect x="1.9" y="-4.5" width=".8" height="4.4" fill="#4f7fe0"/><rect x="3.1" y="-4" width=".6" height="1.6" fill="#fff"/></svg>
<div class="abs" style="left:524.40px;top:414.00px;width:733.60px;height:1.00px;background:#eceef1"></div>
<span class="t" style="left:525.00px;top:394.04px;font-size:12.2px;color:#4f46e5;letter-spacing:-0.011px;">Tests</span>
<div class="abs" style="left:524.40px;top:413.60px;width:29.40px;height:1.60px;background:#4f46e5"></div>
<span class="t" style="left:571.00px;top:394.04px;font-size:12.2px;color:#4b5563;letter-spacing:0.053px;">Statistics</span>
<span class="t" style="left:637.80px;top:394.04px;font-size:12.2px;color:#4b5563;letter-spacing:-0.018px;">Defects</span>
<div class="abs" style="left:524.20px;top:423.10px;width:84.60px;height:25.50px;background:#f9fafb;border:1px solid #e8eaed;border-radius:6px"></div><span class="t" style="left:536.30px;top:430.82px;font-size:10.6px;color:#374151;letter-spacing:-0.274px;">Passed</span><div class="abs" style="left:576.30px;top:429.40px;width:20.00px;height:13.60px;background:#d1fae5;border-radius:4.5px"></div><span class="t" style="left:581.50px;top:431.80px;font-size:9px;font-weight:700;color:#065f46;letter-spacing:-0.208px;-webkit-text-stroke:0;">15</span>
<div class="abs" style="left:613.60px;top:423.10px;width:78.20px;height:25.50px;background:#f9fafb;border:1px solid #e8eaed;border-radius:6px"></div><span class="t" style="left:625.60px;top:430.82px;font-size:10.6px;color:#374151;letter-spacing:-0.243px;">Failed</span><div class="abs" style="left:659.00px;top:429.40px;width:20.40px;height:13.60px;background:#fee2e2;border-radius:4.5px"></div><span class="t" style="left:664.40px;top:431.80px;font-size:9px;font-weight:700;color:#991b1b;letter-spacing:-0.208px;-webkit-text-stroke:0;">18</span>
<div class="abs" style="left:696.70px;top:423.10px;width:84.30px;height:25.50px;background:#f9fafb;border:1px solid #e8eaed;border-radius:6px"></div><span class="t" style="left:708.80px;top:430.82px;font-size:10.6px;color:#374151;letter-spacing:-0.085px;">Skipped</span><div class="abs" style="left:752.80px;top:429.40px;width:16.20px;height:13.60px;background:#fef3c7;border-radius:4.5px"></div><span class="t" style="left:758.50px;top:431.80px;font-size:9px;font-weight:700;color:#92400e;letter-spacing:-0.216px;-webkit-text-stroke:0;">0</span>
<div class="abs" style="left:786.00px;top:423.10px;width:84.60px;height:25.50px;background:#f9fafb;border:1px solid #e8eaed;border-radius:6px"></div><span class="t" style="left:798.00px;top:430.82px;font-size:10.6px;color:#374151;letter-spacing:-0.127px;">Pending</span><div class="abs" style="left:842.50px;top:429.40px;width:15.50px;height:13.60px;background:#f1f2f4;border-radius:4.5px"></div><span class="t" style="left:847.85px;top:431.80px;font-size:9px;font-weight:700;color:#1f2937;letter-spacing:-0.216px;-webkit-text-stroke:0;">0</span>
<div class="abs" style="left:875.60px;top:425.20px;width:1.90px;height:21.60px;background:#cdd4f4;border-radius:1px"></div>
<div class="abs" style="left:882.80px;top:423.10px;width:57.50px;height:25.50px;background:#f9fafb;border:1px solid #e8eaed;border-radius:6px"></div>
<span class="t" style="left:894.70px;top:430.82px;font-size:10.6px;color:#374151;letter-spacing:-0.108px;">Manual</span>
<div class="abs" style="left:946.00px;top:423.10px;width:75.80px;height:25.50px;background:#f9fafb;border:1px solid #e8eaed;border-radius:6px"></div>
<span class="t" style="left:957.80px;top:430.82px;font-size:10.6px;color:#374151;letter-spacing:0.039px;">Automated</span>
<div class="abs" style="left:1027.00px;top:423.10px;width:62.30px;height:25.50px;background:#f9fafb;border:1px solid #e8eaed;border-radius:6px"></div>
<svg class="abs" style="left:1036.20px;top:429.50px;" width="13.2" height="13.2" viewBox="0 0 21 21" fill="none"><path d="M2.2 2 H17.8 Q19.2 2 19.2 3.4 V14 Q19.2 15.4 17.8 15.4 H6 L2.2 19 V3.4 Q2.2 2 2.2 2Z" stroke="#1f2937" stroke-width="1.7" stroke-linejoin="round"/><path d="M10.7 5.2v4.4" stroke="#1f2937" stroke-width="1.8"/><circle cx="10.7" cy="12" r="1.1" fill="#1f2937"/></svg>
<div class="abs" style="left:1061.30px;top:429.40px;width:16.20px;height:13.60px;background:#f1f2f4;border-radius:4.5px"></div>
<span class="t" style="left:1066.80px;top:431.61px;font-size:9.4px;color:#1f2937;-webkit-text-stroke:.3px;">8</span>
<div class="abs" style="left:1094.80px;top:423.10px;width:66.10px;height:25.50px;background:#f9fafb;border:1px solid #e8eaed;border-radius:6px"></div>
<svg class="abs" style="left:1106.90px;top:429.50px;" width="13.2" height="13.2" viewBox="0 0 21 21" fill="none"><path d="M2.2 2 H17.8 Q19.2 2 19.2 3.4 V14 Q19.2 15.4 17.8 15.4 H6 L2.2 19 V3.4 Q2.2 2 2.2 2Z" stroke="#1f2937" stroke-width="1.7" stroke-linejoin="round"/><path d="M10.7 5.2v7M7.2 8.7h7" stroke="#1f2937" stroke-width="1.7"/></svg>
<div class="abs" style="left:1128.80px;top:429.40px;width:20.00px;height:13.60px;background:#f1f2f4;border-radius:4.5px"></div>
<span class="t" style="left:1134.20px;top:431.61px;font-size:9.4px;color:#1f2937;letter-spacing:-0.519px;-webkit-text-stroke:.3px;">15</span>
<div class="abs" style="left:1169.40px;top:423.10px;width:130.60px;height:25.50px;background:#fff;border:1px solid #e5e7eb;border-radius:6px"></div>
<svg class="abs" style="left:1178.80px;top:430.20px;" width="12" height="12" viewBox="0 0 24 24" fill="none"><circle cx="9.8" cy="9.8" r="6.3" stroke="#8a94a6" stroke-width="2.2"/><path d="M14.6 14.6 L21 21" stroke="#8a94a6" stroke-width="2.4"/></svg>
<span class="t" style="left:1198.00px;top:430.92px;font-size:10.8px;color:#6b7280;letter-spacing:-0.201px;">Search by title</span>
<span class="t" style="left:525.00px;top:461.04px;font-size:12.2px;color:#1f2937;letter-spacing:-0.071px;">sort by:</span>
<span class="t" style="left:567.80px;top:461.04px;font-size:12.2px;color:#6366f1;letter-spacing:-0.330px;">suite</span>
<div class="abs" style="left:567.80px;top:473.40px;width:24.10px;height:1.00px;border-top:1px dotted #b4bffc"></div>
<span class="t" style="left:595.30px;top:461.04px;font-size:12.2px;color:#1f2937;">/</span>
<span class="t" style="left:603.00px;top:461.04px;font-size:12.2px;color:#6366f1;letter-spacing:-0.186px;">testcase</span>
<div class="abs" style="left:603.00px;top:473.40px;width:43.90px;height:1.00px;border-top:1px dotted #b4bffc"></div>
<span class="t" style="left:650.60px;top:461.04px;font-size:12.2px;color:#1f2937;">/</span>
<span class="t" style="left:657.50px;top:461.04px;font-size:12.2px;color:#6366f1;letter-spacing:-0.100px;">failure</span>
<div class="abs" style="left:657.50px;top:473.40px;width:32.50px;height:1.00px;border-top:1px dotted #b4bffc"></div>
<div class="abs" style="left:1140.30px;top:457.40px;width:92.70px;height:19.60px;background:#f9fafb;border:1px solid #e8eaed;border-radius:6px"></div>
<svg class="abs" style="left:1146.80px;top:461.40px;" width="11" height="11" viewBox="0 0 21 21" fill="none"><rect x="1.5" y="2.5" width="15" height="13.5" rx="1.6" stroke="#1f2937" stroke-width="1.8"/><path d="M1.5 7.5H16.5M1.5 11.8H10M7 7.5V16M11.6 2.5V9" stroke="#1f2937" stroke-width="1.5"/><circle cx="16.3" cy="16.3" r="3.8" fill="#1f2937" stroke="#f9fafb" stroke-width="1"/><circle cx="16.3" cy="16.3" r="1.2" fill="#f9fafb"/></svg>
<span class="t" style="left:1163.80px;top:461.92px;font-size:10.6px;color:#1f2937;letter-spacing:-0.040px;-webkit-text-stroke:.2px #1f2937;">Custom view</span>
<svg class="abs" style="left:1240.60px;top:461.40px;" width="11.4" height="11.4" viewBox="0 0 24 24" fill="none"><g stroke="#a3aab6" stroke-width="1.6"><path d="M2 7H12.6M19 7H22M2 17H5M11.4 17H22"/><circle cx="15.8" cy="7" r="2.7"/><circle cx="8.2" cy="17" r="2.7"/></g></svg>
<div class="abs" style="left:1252.40px;top:483.00px;width:3.20px;height:70.40px;background:#c7d2fe;border-radius:1.5px"></div>
<svg class="abs" style="left:524.20px;top:490.20px;" width="10.2" height="10.2" viewBox="0 0 10.2 10.2" fill="none"><g transform="translate(1 1)"><circle cx="4.1" cy="4.1" r="4.1" fill="#22b573"/><path d="M1.7999999999999998 4.199999999999999 l1.6 1.6 l3 -3.2" stroke="#fff" stroke-width="1.3"/></g></svg>
<svg class="abs" style="left:541.20px;top:489.30px;" width="11.6" height="11.8" viewBox="0 0 11.6 11.8" fill="none"><rect x=".9" y="1.9" width="9.8" height="9.2" rx="1.1" stroke="#5a6376" stroke-width="1.15"/><rect x="3.7" y=".5" width="4.2" height="2.6" rx=".6" fill="#fff" stroke="#5a6376" stroke-width="1"/><g fill="#5a6376"><rect x="2.9" y="4.9" width="1.5" height="1.5"/><rect x="5.4" y="5.1" width="3.4" height="1.1"/><rect x="2.9" y="7.6" width="1.5" height="1.5"/><rect x="5.4" y="7.8" width="3.4" height="1.1"/></g></svg>
<span class="t" style="left:560.00px;top:490.02px;font-size:10.4px;font-family:'Liberation Mono',monospace;color:#6b7280;letter-spacing:-0.207px;-webkit-text-stroke:.3px #6b7280;">Shopping Cart @s…</span>
<svg class="abs" style="left:676.10px;top:488.50px;" width="14" height="14" viewBox="0 0 14 14" fill="none"><rect width="14" height="14" rx="3" fill="#fef0c3"/><path d="M6.6 6.4 L11.6 8.2 L9.7 9.1 L11.3 10.8 L10.5 11.5 L8.9 9.9 L8 11.7Z" fill="#b45309"/><g stroke="#c2620c" stroke-width="1.1" stroke-linecap="round"><path d="M6.6 2.6v1.2"/><path d="M3.7 3.8l.8.8"/><path d="M2.6 6.7h1.2"/><path d="M3.8 9.5l.8-.7"/><path d="M9.5 3.8l-.8.8"/></g></svg>
<span class="t" style="left:693.30px;top:490.69px;font-size:11.9px;color:#111827;letter-spacing:0.001px;-webkit-text-stroke:.2px;">Add a single item to the shopping cart</span>
<svg class="abs" style="left:898.10px;top:488.60px;" width="14.4" height="14.4" viewBox="-7.2 -7.2 14.4 14.4" fill="none"><circle r="7.2" fill="#1f1f1f"/><path d="M-4.1 -3.5 H1.9 V4.1 H-1.2 V-1.2 H-4.1Z" fill="#fff"/><rect x="1.9" y="-4.5" width=".8" height="4.4" fill="#4f7fe0"/><rect x="3.1" y="-4" width=".6" height="1.6" fill="#fff"/></svg>
<div class="abs" style="left:917.70px;top:489.20px;width:57.40px;height:13.20px;background:#e5e7eb;border-radius:6.6px"></div><span class="t" style="left:923.90px;top:492.50px;font-size:8.8px;color:#566070;letter-spacing:-0.119px;">@user_flow</span>
<div class="abs" style="left:978.70px;top:489.10px;width:18.00px;height:12.80px;background:#ecfdf5;border-radius:6.5px"></div><span class="t" style="left:984.00px;top:491.51px;font-size:9.2px;color:#047857;letter-spacing:-0.256px;-webkit-text-stroke:0;">M</span>
<svg class="abs" style="left:524.20px;top:512.60px;" width="10.2" height="10.2" viewBox="0 0 10.2 10.2" fill="none"><g transform="translate(1 1)"><circle cx="4.1" cy="4.1" r="4.1" fill="#ec3a40"/><rect x="1.9999999999999996" y="3.3499999999999996" width="4.2" height="1.5" rx="0.4" fill="#fff"/></g></svg>
<svg class="abs" style="left:541.20px;top:511.70px;" width="11.6" height="11.8" viewBox="0 0 11.6 11.8" fill="none"><rect x=".9" y="1.9" width="9.8" height="9.2" rx="1.1" stroke="#5a6376" stroke-width="1.15"/><rect x="3.7" y=".5" width="4.2" height="2.6" rx=".6" fill="#fff" stroke="#5a6376" stroke-width="1"/><g fill="#5a6376"><rect x="2.9" y="4.9" width="1.5" height="1.5"/><rect x="5.4" y="5.1" width="3.4" height="1.1"/><rect x="2.9" y="7.6" width="1.5" height="1.5"/><rect x="5.4" y="7.8" width="3.4" height="1.1"/></g></svg>
<span class="t" style="left:560.00px;top:512.42px;font-size:10.4px;font-family:'Liberation Mono',monospace;color:#6b7280;letter-spacing:-0.207px;-webkit-text-stroke:.3px #6b7280;">Shopping Cart @s…</span>
<svg class="abs" style="left:676.10px;top:510.90px;" width="14" height="14" viewBox="0 0 14 14" fill="none"><rect width="14" height="14" rx="3" fill="#fef0c3"/><path d="M6.6 6.4 L11.6 8.2 L9.7 9.1 L11.3 10.8 L10.5 11.5 L8.9 9.9 L8 11.7Z" fill="#b45309"/><g stroke="#c2620c" stroke-width="1.1" stroke-linecap="round"><path d="M6.6 2.6v1.2"/><path d="M3.7 3.8l.8.8"/><path d="M2.6 6.7h1.2"/><path d="M3.8 9.5l.8-.7"/><path d="M9.5 3.8l-.8.8"/></g></svg>
<span class="t" style="left:693.30px;top:513.09px;font-size:11.9px;color:#111827;letter-spacing:0.009px;-webkit-text-stroke:.2px;">Shopping with placeholder</span>
<svg class="abs" style="left:839.10px;top:511.00px;" width="14.4" height="14.4" viewBox="-7.2 -7.2 14.4 14.4" fill="none"><circle r="7.2" fill="#1f1f1f"/><path d="M-4.1 -3.5 H1.9 V4.1 H-1.2 V-1.2 H-4.1Z" fill="#fff"/><rect x="1.9" y="-4.5" width=".8" height="4.4" fill="#4f7fe0"/><rect x="3.1" y="-4" width=".6" height="1.6" fill="#fff"/></svg>
<div class="abs" style="left:861.70px;top:511.50px;width:16.00px;height:12.80px;background:#fef2f2;border-radius:6.5px"></div><span class="t" style="left:866.75px;top:513.91px;font-size:9.2px;color:#b91c1c;letter-spacing:-0.241px;-webkit-text-stroke:0;">K</span>
<svg class="abs" style="left:524.20px;top:535.00px;" width="10.2" height="10.2" viewBox="0 0 10.2 10.2" fill="none"><g transform="translate(1 1)"><circle cx="4.1" cy="4.1" r="4.1" fill="#22b573"/><path d="M1.7999999999999998 4.199999999999999 l1.6 1.6 l3 -3.2" stroke="#fff" stroke-width="1.3"/></g></svg>
<svg class="abs" style="left:541.20px;top:534.10px;" width="11.6" height="11.8" viewBox="0 0 11.6 11.8" fill="none"><rect x=".9" y="1.9" width="9.8" height="9.2" rx="1.1" stroke="#5a6376" stroke-width="1.15"/><rect x="3.7" y=".5" width="4.2" height="2.6" rx=".6" fill="#fff" stroke="#5a6376" stroke-width="1"/><g fill="#5a6376"><rect x="2.9" y="4.9" width="1.5" height="1.5"/><rect x="5.4" y="5.1" width="3.4" height="1.1"/><rect x="2.9" y="7.6" width="1.5" height="1.5"/><rect x="5.4" y="7.8" width="3.4" height="1.1"/></g></svg>
<span class="t" style="left:560.00px;top:534.82px;font-size:10.4px;font-family:'Liberation Mono',monospace;color:#6b7280;letter-spacing:-0.207px;-webkit-text-stroke:.3px #6b7280;">Shopping Cart @s…</span>
<svg class="abs" style="left:676.10px;top:533.30px;" width="14" height="14" viewBox="0 0 14 14" fill="none"><rect width="14" height="14" rx="3" fill="#fef0c3"/><path d="M6.6 6.4 L11.6 8.2 L9.7 9.1 L11.3 10.8 L10.5 11.5 L8.9 9.9 L8 11.7Z" fill="#b45309"/><g stroke="#c2620c" stroke-width="1.1" stroke-linecap="round"><path d="M6.6 2.6v1.2"/><path d="M3.7 3.8l.8.8"/><path d="M2.6 6.7h1.2"/><path d="M3.8 9.5l.8-.7"/><path d="M9.5 3.8l-.8.8"/></g></svg>
<span class="t" style="left:693.30px;top:535.49px;font-size:11.9px;color:#111827;letter-spacing:0.009px;-webkit-text-stroke:.2px;">Shopping with placeholder</span>
<svg class="abs" style="left:839.10px;top:533.40px;" width="14.4" height="14.4" viewBox="-7.2 -7.2 14.4 14.4" fill="none"><circle r="7.2" fill="#1f1f1f"/><path d="M-4.1 -3.5 H1.9 V4.1 H-1.2 V-1.2 H-4.1Z" fill="#fff"/><rect x="1.9" y="-4.5" width=".8" height="4.4" fill="#4f7fe0"/><rect x="3.1" y="-4" width=".6" height="1.6" fill="#fff"/></svg>
<div class="abs" style="left:861.70px;top:533.90px;width:18.60px;height:12.80px;background:#ecfdf5;border-radius:6.5px"></div><span class="t" style="left:867.30px;top:536.31px;font-size:9.2px;color:#047857;letter-spacing:-0.256px;-webkit-text-stroke:0;">M</span>
<svg class="abs" style="left:524.20px;top:557.40px;" width="10.2" height="10.2" viewBox="0 0 10.2 10.2" fill="none"><g transform="translate(1 1)"><circle cx="4.1" cy="4.1" r="4.1" fill="#ec3a40"/><rect x="1.9999999999999996" y="3.3499999999999996" width="4.2" height="1.5" rx="0.4" fill="#fff"/></g></svg>
<svg class="abs" style="left:541.20px;top:556.50px;" width="11.6" height="11.8" viewBox="0 0 11.6 11.8" fill="none"><rect x=".9" y="1.9" width="9.8" height="9.2" rx="1.1" stroke="#5a6376" stroke-width="1.15"/><rect x="3.7" y=".5" width="4.2" height="2.6" rx=".6" fill="#fff" stroke="#5a6376" stroke-width="1"/><g fill="#5a6376"><rect x="2.9" y="4.9" width="1.5" height="1.5"/><rect x="5.4" y="5.1" width="3.4" height="1.1"/><rect x="2.9" y="7.6" width="1.5" height="1.5"/><rect x="5.4" y="7.8" width="3.4" height="1.1"/></g></svg>
<span class="t" style="left:560.00px;top:557.22px;font-size:10.4px;font-family:'Liberation Mono',monospace;color:#6b7280;letter-spacing:-0.207px;-webkit-text-stroke:.3px #6b7280;">Shopping Cart @s…</span>
<svg class="abs" style="left:676.10px;top:555.70px;" width="14" height="14" viewBox="0 0 14 14" fill="none"><rect width="14" height="14" rx="3" fill="#fef0c3"/><path d="M6.6 6.4 L11.6 8.2 L9.7 9.1 L11.3 10.8 L10.5 11.5 L8.9 9.9 L8 11.7Z" fill="#b45309"/><g stroke="#c2620c" stroke-width="1.1" stroke-linecap="round"><path d="M6.6 2.6v1.2"/><path d="M3.7 3.8l.8.8"/><path d="M2.6 6.7h1.2"/><path d="M3.8 9.5l.8-.7"/><path d="M9.5 3.8l-.8.8"/></g></svg>
<span class="t" style="left:693.30px;top:557.89px;font-size:11.9px;color:#111827;letter-spacing:0.042px;-webkit-text-stroke:.2px;">Add multiple different items to the shopping cart</span>
<svg class="abs" style="left:952.50px;top:555.80px;" width="14.4" height="14.4" viewBox="-7.2 -7.2 14.4 14.4" fill="none"><circle r="7.2" fill="#1f1f1f"/><path d="M-4.1 -3.5 H1.9 V4.1 H-1.2 V-1.2 H-4.1Z" fill="#fff"/><rect x="1.9" y="-4.5" width=".8" height="4.4" fill="#4f7fe0"/><rect x="3.1" y="-4" width=".6" height="1.6" fill="#fff"/></svg>
<div class="abs" style="left:972.00px;top:556.40px;width:57.40px;height:13.20px;background:#e5e7eb;border-radius:6.6px"></div><span class="t" style="left:978.20px;top:559.70px;font-size:8.8px;color:#566070;letter-spacing:-0.119px;">@user_flow</span>
<div class="abs" style="left:1032.70px;top:556.30px;width:16.60px;height:12.80px;background:#fef2f2;border-radius:6.5px"></div><span class="t" style="left:1038.05px;top:558.71px;font-size:9.2px;color:#b91c1c;letter-spacing:-0.241px;-webkit-text-stroke:0;">K</span>
<svg class="abs" style="left:524.20px;top:579.80px;" width="10.2" height="10.2" viewBox="0 0 10.2 10.2" fill="none"><g transform="translate(1 1)"><circle cx="4.1" cy="4.1" r="4.1" fill="#22b573"/><path d="M1.7999999999999998 4.199999999999999 l1.6 1.6 l3 -3.2" stroke="#fff" stroke-width="1.3"/></g></svg>
<svg class="abs" style="left:541.20px;top:578.90px;" width="11.6" height="11.8" viewBox="0 0 11.6 11.8" fill="none"><rect x=".9" y="1.9" width="9.8" height="9.2" rx="1.1" stroke="#5a6376" stroke-width="1.15"/><rect x="3.7" y=".5" width="4.2" height="2.6" rx=".6" fill="#fff" stroke="#5a6376" stroke-width="1"/><g fill="#5a6376"><rect x="2.9" y="4.9" width="1.5" height="1.5"/><rect x="5.4" y="5.1" width="3.4" height="1.1"/><rect x="2.9" y="7.6" width="1.5" height="1.5"/><rect x="5.4" y="7.8" width="3.4" height="1.1"/></g></svg>
<span class="t" style="left:560.00px;top:579.62px;font-size:10.4px;font-family:'Liberation Mono',monospace;color:#6b7280;letter-spacing:-0.207px;-webkit-text-stroke:.3px #6b7280;">Shopping Cart @s…</span>
<svg class="abs" style="left:676.10px;top:578.10px;" width="14" height="14" viewBox="0 0 14 14" fill="none"><rect width="14" height="14" rx="3" fill="#fef0c3"/><path d="M6.6 6.4 L11.6 8.2 L9.7 9.1 L11.3 10.8 L10.5 11.5 L8.9 9.9 L8 11.7Z" fill="#b45309"/><g stroke="#c2620c" stroke-width="1.1" stroke-linecap="round"><path d="M6.6 2.6v1.2"/><path d="M3.7 3.8l.8.8"/><path d="M2.6 6.7h1.2"/><path d="M3.8 9.5l.8-.7"/><path d="M9.5 3.8l-.8.8"/></g></svg>
<span class="t" style="left:693.30px;top:580.29px;font-size:11.9px;color:#111827;letter-spacing:-0.040px;-webkit-text-stroke:.2px;">Remove an item from the shopping cart</span>
<svg class="abs" style="left:905.80px;top:578.20px;" width="14.4" height="14.4" viewBox="-7.2 -7.2 14.4 14.4" fill="none"><circle r="7.2" fill="#1f1f1f"/><path d="M-4.1 -3.5 H1.9 V4.1 H-1.2 V-1.2 H-4.1Z" fill="#fff"/><rect x="1.9" y="-4.5" width=".8" height="4.4" fill="#4f7fe0"/><rect x="3.1" y="-4" width=".6" height="1.6" fill="#fff"/></svg>
<div class="abs" style="left:925.70px;top:578.80px;width:57.40px;height:13.20px;background:#e5e7eb;border-radius:6.6px"></div><span class="t" style="left:931.90px;top:582.10px;font-size:8.8px;color:#566070;letter-spacing:-0.119px;">@user_flow</span>
<div class="abs" style="left:986.00px;top:578.70px;width:16.00px;height:12.80px;background:#ecfdf5;border-radius:6.5px"></div><span class="t" style="left:991.30px;top:581.11px;font-size:9.2px;color:#047857;letter-spacing:-0.741px;-webkit-text-stroke:0;">E</span>
<svg class="abs" style="left:524.20px;top:602.20px;" width="10.2" height="10.2" viewBox="0 0 10.2 10.2" fill="none"><g transform="translate(1 1)"><circle cx="4.1" cy="4.1" r="4.1" fill="#22b573"/><path d="M1.7999999999999998 4.199999999999999 l1.6 1.6 l3 -3.2" stroke="#fff" stroke-width="1.3"/></g></svg>
<svg class="abs" style="left:541.20px;top:601.30px;" width="11.6" height="11.8" viewBox="0 0 11.6 11.8" fill="none"><rect x=".9" y="1.9" width="9.8" height="9.2" rx="1.1" stroke="#5a6376" stroke-width="1.15"/><rect x="3.7" y=".5" width="4.2" height="2.6" rx=".6" fill="#fff" stroke="#5a6376" stroke-width="1"/><g fill="#5a6376"><rect x="2.9" y="4.9" width="1.5" height="1.5"/><rect x="5.4" y="5.1" width="3.4" height="1.1"/><rect x="2.9" y="7.6" width="1.5" height="1.5"/><rect x="5.4" y="7.8" width="3.4" height="1.1"/></g></svg>
<span class="t" style="left:560.00px;top:602.02px;font-size:10.4px;font-family:'Liberation Mono',monospace;color:#6b7280;letter-spacing:-0.207px;-webkit-text-stroke:.3px #6b7280;">Shopping Cart @s…</span>
<svg class="abs" style="left:676.10px;top:600.50px;" width="14" height="14" viewBox="0 0 14 14" fill="none"><rect width="14" height="14" rx="3" fill="#fef0c3"/><path d="M6.6 6.4 L11.6 8.2 L9.7 9.1 L11.3 10.8 L10.5 11.5 L8.9 9.9 L8 11.7Z" fill="#b45309"/><g stroke="#c2620c" stroke-width="1.1" stroke-linecap="round"><path d="M6.6 2.6v1.2"/><path d="M3.7 3.8l.8.8"/><path d="M2.6 6.7h1.2"/><path d="M3.8 9.5l.8-.7"/><path d="M9.5 3.8l-.8.8"/></g></svg>
<span class="t" style="left:693.30px;top:602.69px;font-size:11.9px;color:#111827;letter-spacing:0.057px;-webkit-text-stroke:.2px;">Verify total price calculation with decimal prices</span>
<svg class="abs" style="left:949.80px;top:600.60px;" width="14.4" height="14.4" viewBox="-7.2 -7.2 14.4 14.4" fill="none"><circle r="7.2" fill="#1f1f1f"/><path d="M-4.1 -3.5 H1.9 V4.1 H-1.2 V-1.2 H-4.1Z" fill="#fff"/><rect x="1.9" y="-4.5" width=".8" height="4.4" fill="#4f7fe0"/><rect x="3.1" y="-4" width=".6" height="1.6" fill="#fff"/></svg>
<div class="abs" style="left:972.70px;top:601.10px;width:18.30px;height:12.80px;background:#ecfdf5;border-radius:6.5px"></div><span class="t" style="left:978.15px;top:603.51px;font-size:9.2px;color:#047857;letter-spacing:-0.256px;-webkit-text-stroke:0;">M</span>
<svg class="abs" style="left:524.20px;top:624.60px;" width="10.2" height="10.2" viewBox="0 0 10.2 10.2" fill="none"><g transform="translate(1 1)"><circle cx="4.1" cy="4.1" r="4.1" fill="#22b573"/><path d="M1.7999999999999998 4.199999999999999 l1.6 1.6 l3 -3.2" stroke="#fff" stroke-width="1.3"/></g></svg>
<svg class="abs" style="left:541.20px;top:623.70px;" width="11.6" height="11.8" viewBox="0 0 11.6 11.8" fill="none"><rect x=".9" y="1.9" width="9.8" height="9.2" rx="1.1" stroke="#5a6376" stroke-width="1.15"/><rect x="3.7" y=".5" width="4.2" height="2.6" rx=".6" fill="#fff" stroke="#5a6376" stroke-width="1"/><g fill="#5a6376"><rect x="2.9" y="4.9" width="1.5" height="1.5"/><rect x="5.4" y="5.1" width="3.4" height="1.1"/><rect x="2.9" y="7.6" width="1.5" height="1.5"/><rect x="5.4" y="7.8" width="3.4" height="1.1"/></g></svg>
<span class="t" style="left:560.00px;top:624.42px;font-size:10.4px;font-family:'Liberation Mono',monospace;color:#6b7280;letter-spacing:-0.207px;-webkit-text-stroke:.3px #6b7280;">Shopping Cart @s…</span>
<svg class="abs" style="left:676.10px;top:622.90px;" width="14" height="14" viewBox="0 0 14 14" fill="none"><rect width="14" height="14" rx="3" fill="#fef0c3"/><path d="M6.6 6.4 L11.6 8.2 L9.7 9.1 L11.3 10.8 L10.5 11.5 L8.9 9.9 L8 11.7Z" fill="#b45309"/><g stroke="#c2620c" stroke-width="1.1" stroke-linecap="round"><path d="M6.6 2.6v1.2"/><path d="M3.7 3.8l.8.8"/><path d="M2.6 6.7h1.2"/><path d="M3.8 9.5l.8-.7"/><path d="M9.5 3.8l-.8.8"/></g></svg>
<span class="t" style="left:693.30px;top:625.09px;font-size:11.9px;color:#111827;letter-spacing:0.005px;-webkit-text-stroke:.2px;">Test the shopping cart with an item having a negative price</span>
<svg class="abs" style="left:1008.50px;top:623.00px;" width="14.4" height="14.4" viewBox="-7.2 -7.2 14.4 14.4" fill="none"><circle r="7.2" fill="#1f1f1f"/><path d="M-4.1 -3.5 H1.9 V4.1 H-1.2 V-1.2 H-4.1Z" fill="#fff"/><rect x="1.9" y="-4.5" width=".8" height="4.4" fill="#4f7fe0"/><rect x="3.1" y="-4" width=".6" height="1.6" fill="#fff"/></svg>
<div class="abs" style="left:1031.00px;top:623.50px;width:16.30px;height:12.80px;background:#ecfdf5;border-radius:6.5px"></div><span class="t" style="left:1036.45px;top:625.91px;font-size:9.2px;color:#047857;letter-spacing:-0.741px;-webkit-text-stroke:0;">E</span>
<svg class="abs" style="left:524.20px;top:647.00px;" width="10.2" height="10.2" viewBox="0 0 10.2 10.2" fill="none"><g transform="translate(1 1)"><circle cx="4.1" cy="4.1" r="4.1" fill="#ec3a40"/><rect x="1.9999999999999996" y="3.3499999999999996" width="4.2" height="1.5" rx="0.4" fill="#fff"/></g></svg>
<svg class="abs" style="left:541.20px;top:646.10px;" width="11.6" height="11.8" viewBox="0 0 11.6 11.8" fill="none"><rect x=".9" y="1.9" width="9.8" height="9.2" rx="1.1" stroke="#5a6376" stroke-width="1.15"/><rect x="3.7" y=".5" width="4.2" height="2.6" rx=".6" fill="#fff" stroke="#5a6376" stroke-width="1"/><g fill="#5a6376"><rect x="2.9" y="4.9" width="1.5" height="1.5"/><rect x="5.4" y="5.1" width="3.4" height="1.1"/><rect x="2.9" y="7.6" width="1.5" height="1.5"/><rect x="5.4" y="7.8" width="3.4" height="1.1"/></g></svg>
<span class="t" style="left:560.00px;top:646.82px;font-size:10.4px;font-family:'Liberation Mono',monospace;color:#6b7280;letter-spacing:-0.207px;-webkit-text-stroke:.3px #6b7280;">Shopping Cart @s…</span>
<svg class="abs" style="left:676.10px;top:645.30px;" width="14" height="14" viewBox="0 0 14 14" fill="none"><rect width="14" height="14" rx="3" fill="#fef0c3"/><path d="M6.6 6.4 L11.6 8.2 L9.7 9.1 L11.3 10.8 L10.5 11.5 L8.9 9.9 L8 11.7Z" fill="#b45309"/><g stroke="#c2620c" stroke-width="1.1" stroke-linecap="round"><path d="M6.6 2.6v1.2"/><path d="M3.7 3.8l.8.8"/><path d="M2.6 6.7h1.2"/><path d="M3.8 9.5l.8-.7"/><path d="M9.5 3.8l-.8.8"/></g></svg>
<span class="t" style="left:693.30px;top:647.49px;font-size:11.9px;color:#111827;letter-spacing:0.034px;-webkit-text-stroke:.2px;">Open the shopping cart from a product listing page directly</span>
<svg class="abs" style="left:1009.50px;top:645.40px;" width="14.4" height="14.4" viewBox="-7.2 -7.2 14.4 14.4" fill="none"><circle r="7.2" fill="#1f1f1f"/><path d="M-4.1 -3.5 H1.9 V4.1 H-1.2 V-1.2 H-4.1Z" fill="#fff"/><rect x="1.9" y="-4.5" width=".8" height="4.4" fill="#4f7fe0"/><rect x="3.1" y="-4" width=".6" height="1.6" fill="#fff"/></svg>
<div class="abs" style="left:1032.00px;top:645.90px;width:17.30px;height:12.80px;background:#fef2f2;border-radius:6.5px"></div><span class="t" style="left:1037.70px;top:648.31px;font-size:9.2px;color:#b91c1c;letter-spacing:-0.241px;-webkit-text-stroke:0;">K</span>
<svg class="abs" style="left:524.20px;top:669.40px;" width="10.2" height="10.2" viewBox="0 0 10.2 10.2" fill="none"><g transform="translate(1 1)"><circle cx="4.1" cy="4.1" r="4.1" fill="#ec3a40"/><rect x="1.9999999999999996" y="3.3499999999999996" width="4.2" height="1.5" rx="0.4" fill="#fff"/></g></svg>
<svg class="abs" style="left:541.20px;top:668.50px;" width="11.6" height="11.8" viewBox="0 0 11.6 11.8" fill="none"><rect x=".9" y="1.9" width="9.8" height="9.2" rx="1.1" stroke="#5a6376" stroke-width="1.15"/><rect x="3.7" y=".5" width="4.2" height="2.6" rx=".6" fill="#fff" stroke="#5a6376" stroke-width="1"/><g fill="#5a6376"><rect x="2.9" y="4.9" width="1.5" height="1.5"/><rect x="5.4" y="5.1" width="3.4" height="1.1"/><rect x="2.9" y="7.6" width="1.5" height="1.5"/><rect x="5.4" y="7.8" width="3.4" height="1.1"/></g></svg>
<span class="t" style="left:560.00px;top:669.22px;font-size:10.4px;font-family:'Liberation Mono',monospace;color:#6b7280;letter-spacing:-0.207px;-webkit-text-stroke:.3px #6b7280;">Shopping Cart @s…</span>
<svg class="abs" style="left:676.10px;top:667.70px;" width="14" height="14" viewBox="0 0 14 14" fill="none"><rect width="14" height="14" rx="3" fill="#fef0c3"/><path d="M6.6 6.4 L11.6 8.2 L9.7 9.1 L11.3 10.8 L10.5 11.5 L8.9 9.9 L8 11.7Z" fill="#b45309"/><g stroke="#c2620c" stroke-width="1.1" stroke-linecap="round"><path d="M6.6 2.6v1.2"/><path d="M3.7 3.8l.8.8"/><path d="M2.6 6.7h1.2"/><path d="M3.8 9.5l.8-.7"/><path d="M9.5 3.8l-.8.8"/></g></svg>
<span class="t" style="left:693.30px;top:669.89px;font-size:11.9px;color:#111827;letter-spacing:-0.016px;-webkit-text-stroke:.2px;">Add an item to the cart after removing all other items</span>
<svg class="abs" style="left:974.80px;top:667.80px;" width="14.4" height="14.4" viewBox="-7.2 -7.2 14.4 14.4" fill="none"><circle r="7.2" fill="#1f1f1f"/><path d="M-4.1 -3.5 H1.9 V4.1 H-1.2 V-1.2 H-4.1Z" fill="#fff"/><rect x="1.9" y="-4.5" width=".8" height="4.4" fill="#4f7fe0"/><rect x="3.1" y="-4" width=".6" height="1.6" fill="#fff"/></svg>
<div class="abs" style="left:997.30px;top:668.30px;width:16.00px;height:12.80px;background:#fef2f2;border-radius:6.5px"></div><span class="t" style="left:1002.60px;top:670.71px;font-size:9.2px;color:#b91c1c;letter-spacing:-0.741px;-webkit-text-stroke:0;">E</span>
<svg class="abs" style="left:524.20px;top:691.80px;" width="10.2" height="10.2" viewBox="0 0 10.2 10.2" fill="none"><g transform="translate(1 1)"><circle cx="4.1" cy="4.1" r="4.1" fill="#ec3a40"/><rect x="1.9999999999999996" y="3.3499999999999996" width="4.2" height="1.5" rx="0.4" fill="#fff"/></g></svg>
<svg class="abs" style="left:541.20px;top:690.90px;" width="11.6" height="11.8" viewBox="0 0 11.6 11.8" fill="none"><rect x=".9" y="1.9" width="9.8" height="9.2" rx="1.1" stroke="#5a6376" stroke-width="1.15"/><rect x="3.7" y=".5" width="4.2" height="2.6" rx=".6" fill="#fff" stroke="#5a6376" stroke-width="1"/><g fill="#5a6376"><rect x="2.9" y="4.9" width="1.5" height="1.5"/><rect x="5.4" y="5.1" width="3.4" height="1.1"/><rect x="2.9" y="7.6" width="1.5" height="1.5"/><rect x="5.4" y="7.8" width="3.4" height="1.1"/></g></svg>
<span class="t" style="left:560.00px;top:691.62px;font-size:10.4px;font-family:'Liberation Mono',monospace;color:#6b7280;letter-spacing:-0.207px;-webkit-text-stroke:.3px #6b7280;">Shopping Cart @s…</span>
<svg class="abs" style="left:676.10px;top:690.10px;" width="14" height="14" viewBox="0 0 14 14" fill="none"><rect width="14" height="14" rx="3" fill="#fef0c3"/><path d="M6.6 6.4 L11.6 8.2 L9.7 9.1 L11.3 10.8 L10.5 11.5 L8.9 9.9 L8 11.7Z" fill="#b45309"/><g stroke="#c2620c" stroke-width="1.1" stroke-linecap="round"><path d="M6.6 2.6v1.2"/><path d="M3.7 3.8l.8.8"/><path d="M2.6 6.7h1.2"/><path d="M3.8 9.5l.8-.7"/><path d="M9.5 3.8l-.8.8"/></g></svg>
<span class="t" style="left:693.30px;top:692.29px;font-size:11.9px;color:#111827;letter-spacing:-0.027px;-webkit-text-stroke:.2px;">Verify Cart Items Are Preserved After Browser Refresh</span>
<svg class="abs" style="left:984.10px;top:690.20px;" width="14.4" height="14.4" viewBox="-7.2 -7.2 14.4 14.4" fill="none"><circle r="7.2" fill="#1f1f1f"/><path d="M-4.1 -3.5 H1.9 V4.1 H-1.2 V-1.2 H-4.1Z" fill="#fff"/><rect x="1.9" y="-4.5" width=".8" height="4.4" fill="#4f7fe0"/><rect x="3.1" y="-4" width=".6" height="1.6" fill="#fff"/></svg>
<div class="abs" style="left:1007.00px;top:690.70px;width:16.00px;height:12.80px;background:#fef2f2;border-radius:6.5px"></div><span class="t" style="left:1012.05px;top:693.11px;font-size:9.2px;color:#b91c1c;letter-spacing:-0.741px;-webkit-text-stroke:0;">D</span>
</div>
<div id="rightu">
<div class="abs" style="left:475.60px;top:11.80px;width:25.40px;height:25.00px;background:#fff;border-radius:6px 0 0 6px;box-shadow:0 2px 6px rgba(0,0,0,.10),0 1px 2px rgba(0,0,0,.08)"></div>
<svg class="abs" style="left:483.60px;top:19.80px;" width="8.8" height="8.8" viewBox="0 0 8.8 8.8" fill="none"><path d="M1 1 L7.8 7.8 M7.8 1 L1 7.8" stroke="#1f2937" stroke-width="1.25" stroke-linecap="round"/></svg>
<div class="abs" style="left:503.60px;top:45.00px;width:775.40px;height:1.00px;background:#f1f2f4"></div>
<div class="abs" style="left:530.50px;top:21.50px;width:5.20px;height:5.20px;background:#ef4444;border-radius:50%"></div>
<span class="t" style="left:540.60px;top:18.82px;font-size:10.4px;color:#374151;letter-spacing:-0.721px;">Run</span>
<span class="t" style="left:561.30px;top:18.43px;font-size:11px;font-weight:700;color:#374151;letter-spacing:0.076px;">4df32565</span>
<svg class="abs" style="left:620.80px;top:18.40px;" width="11" height="12" viewBox="0 0 11 12" fill="none"><rect x="3.6" y="3" width="6.6" height="8.2" rx="1" stroke="#374151" stroke-width="1.2"/><path d="M1.4 8.6 V1.8 Q1.4 .8 2.4 .8 H7.4" stroke="#374151" stroke-width="1.2"/></svg>
<div class="abs" style="left:640.60px;top:17.20px;width:47.00px;height:13.50px;background:#e0f0fb;border-radius:4px"></div>
<svg class="abs" style="left:641.80px;top:17.20px;" width="13.6" height="13.6" viewBox="0 0 14 14" fill="none"><g stroke="#1d6fa8" stroke-width="1.35" fill="none"><path d="M2 4.5 H6"/><path d="M12.2 8.9 H8.2"/><path d="M8 1.9 A5.1 5.1 0 0 1 12 6.7" stroke-dasharray="3.6 0.7"/><path d="M6 11.6 A5.1 5.1 0 0 1 2 7.7" stroke-dasharray="3.6 0.7"/></g><path d="M5.1 2.5 L7.7 4.5 L5.1 6.5Z" fill="#1d6fa8"/><path d="M9.1 6.9 L6.5 8.9 L9.1 10.9Z" fill="#1d6fa8"/></svg>
<span class="t" style="left:657.20px;top:18.92px;font-size:10.8px;color:#1d6fa8;letter-spacing:-0.203px;-webkit-text-stroke:.25px #1d6fa8;">mixed</span>
<div class="abs" style="left:978.30px;top:11.30px;width:130.70px;height:25.70px;background:#fff;border:1px solid #c7d2fe;border-radius:6px"></div>
<div class="abs" style="left:1083.00px;top:11.80px;width:1.00px;height:24.70px;background:#c7d2fe"></div>
<svg class="abs" style="left:985.60px;top:16.40px;" width="15.4" height="15.4" viewBox="0 0 24 24" fill="none"><path d="M9 4.5 L10.7 9.3 L15.5 11 L10.7 12.7 L9 17.5 L7.3 12.7 L2.5 11 L7.3 9.3Z" fill="#4338ca"/><path d="M18 2.5 L18.9 5.1 L21.5 6 L18.9 6.9 L18 9.5 L17.1 6.9 L14.5 6 L17.1 5.1Z" fill="#4338ca"/><path d="M17.5 15.5 L18.2 17.3 L20 18 L18.2 18.7 L17.5 20.5 L16.8 18.7 L15 18 L16.8 17.3Z" fill="#4338ca"/></svg>
<span class="t" style="left:1007.00px;top:19.82px;font-size:10.2px;color:#4338ca;letter-spacing:-0.074px;-webkit-text-stroke:.35px #4338ca;">Run Summary</span>
<div class="abs" style="left:1091.00px;top:22.80px;width:2.60px;height:2.60px;background:#4338ca;border-radius:50%"></div>
<div class="abs" style="left:1094.70px;top:22.80px;width:2.60px;height:2.60px;background:#4338ca;border-radius:50%"></div>
<div class="abs" style="left:1098.40px;top:22.80px;width:2.60px;height:2.60px;background:#4338ca;border-radius:50%"></div>
<div class="abs" style="left:1117.00px;top:11.30px;width:72.30px;height:25.70px;background:#6366f1;border-radius:6px"></div>
<svg class="abs" style="left:1127.00px;top:18.60px;" width="11.6" height="10.8" viewBox="0 0 11.6 10.8" fill="none"><path d="M1 0V9.8H11.6" stroke="#fff" stroke-width="1.9"/><rect x="3.6" y="3.2" width="1.9" height="5" fill="#fff"/><rect x="6.4" y=".6" width="1.9" height="7.6" fill="#fff"/><rect x="9.2" y="4.6" width="1.9" height="3.6" fill="#fff"/></svg>
<span class="t" style="left:1146.20px;top:19.82px;font-size:10.2px;color:#fff;letter-spacing:0.070px;-webkit-text-stroke:.35px #fff;">Report</span>
<div class="abs" style="left:1197.00px;top:11.30px;width:25.60px;height:25.70px;background:#f9fafb;border:1px solid #f0f1f3;border-radius:6px"></div>
<div class="abs" style="left:1205.20px;top:22.80px;width:2.60px;height:2.60px;background:#1f2937;border-radius:50%"></div>
<div class="abs" style="left:1208.90px;top:22.80px;width:2.60px;height:2.60px;background:#1f2937;border-radius:50%"></div>
<div class="abs" style="left:1212.60px;top:22.80px;width:2.60px;height:2.60px;background:#1f2937;border-radius:50%"></div>
<svg class="abs" style="left:1239.45px;top:19.55px;" width="8.9" height="8.9" viewBox="0 0 8.9 8.9" fill="none"><path d="M1 1 L7.9 7.9 M7.9 1 L1 7.9" stroke="#1f2937" stroke-width="1.3" stroke-linecap="round"/></svg>
<div class="abs" style="left:1043.20px;top:42.00px;width:179.40px;height:325.20px;background:#fff;border-radius:7px;box-shadow:0 4px 14px rgba(0,0,0,.13),0 1px 4px rgba(0,0,0,.10)"></div>
<div class="abs" style="left:1043.20px;top:100.00px;width:179.40px;height:1.00px;background:#eef0f2"></div>
<div class="abs" style="left:1043.20px;top:335.00px;width:179.40px;height:1.00px;background:#eef0f2"></div>
<div class="abs" style="left:1043.20px;top:257.00px;width:179.40px;height:26.00px;background:#f7f8f9"></div>
<svg class="abs" style="left:1054.00px;top:53.70px;" width="14.6" height="14.6" viewBox="0 0 24 24" fill="none"><path d="M12 3.2 A8.8 8.8 0 1 1 4.4 7.6" stroke="#334155" stroke-width="2"/><path d="M3.2 5.2h3.4v3.4" stroke="#334155" stroke-width="0" /><circle cx="5.2" cy="6.2" r="1.4" fill="#334155"/><circle cx="12" cy="12" r="5" stroke="#334155" stroke-width="1.8"/><path d="M10.6 9.6 L14.4 12 L10.6 14.4Z" fill="#334155"/></svg>
<span class="t" style="left:1076.80px;top:55.72px;font-size:10.6px;color:#374151;letter-spacing:-0.257px;-webkit-text-stroke:.12px;">Relaunch Failed</span>
<svg class="abs" style="left:1054.00px;top:80.20px;" width="14.6" height="14.6" viewBox="0 0 24 24" fill="none"><path d="M12 3.2 A8.8 8.8 0 1 1 3.2 12" stroke="#334155" stroke-width="2"/><circle cx="5.6" cy="5.8" r="1.2" fill="#334155"/><circle cx="8.6" cy="3.9" r="1.1" fill="#334155"/><circle cx="3.8" cy="8.8" r="1.1" fill="#334155"/><path d="M10 8 L16 12 L10 16Z" fill="#334155"/></svg>
<span class="t" style="left:1076.80px;top:82.22px;font-size:10.6px;color:#374151;letter-spacing:-0.201px;-webkit-text-stroke:.12px;">Relaunch All</span>
<svg class="abs" style="left:1054.00px;top:106.00px;" width="14.6" height="14.6" viewBox="0 0 24 24" fill="none"><path d="M2.5 16.5 C5 9.5 13 8 18.5 12.5" stroke="#334155" stroke-width="2.2"/><path d="M21.5 8 V16.5 H13Z" fill="#334155"/></svg>
<span class="t" style="left:1076.80px;top:108.02px;font-size:10.6px;color:#374151;letter-spacing:-0.183px;-webkit-text-stroke:.12px;">Relaunch Manually</span>
<svg class="abs" style="left:1054.00px;top:132.20px;" width="14.6" height="14.6" viewBox="0 0 24 24" fill="none"><circle cx="12" cy="12" r="9" stroke="#334155" stroke-width="2"/><path d="M10 8 L16 12 L10 16Z" fill="#334155"/></svg>
<span class="t" style="left:1076.80px;top:134.22px;font-size:10.6px;color:#374151;letter-spacing:-0.155px;-webkit-text-stroke:.12px;">Advanced Relaunch</span>
<svg class="abs" style="left:1054.00px;top:158.20px;" width="14.6" height="14.6" viewBox="0 0 24 24" fill="none"><path d="M8 5.5 L19 12 L8 18.5Z" fill="#334155"/></svg>
<span class="t" style="left:1076.80px;top:160.22px;font-size:10.6px;color:#374151;letter-spacing:-0.132px;-webkit-text-stroke:.12px;">Launch a Copy Manually</span>
<svg class="abs" style="left:1054.00px;top:184.20px;" width="14.6" height="14.6" viewBox="0 0 24 24" fill="none"><rect x="3" y="3.2" width="18" height="4.2" fill="#334155"/><path d="M4 9 H20 V20.8 H4Z M9 11.6 V13.6 H15 V11.6Z" fill="#334155" fill-rule="evenodd"/></svg>
<span class="t" style="left:1076.80px;top:186.22px;font-size:10.6px;color:#374151;letter-spacing:-0.090px;-webkit-text-stroke:.12px;">Archive</span>
<svg class="abs" style="left:1054.00px;top:210.20px;" width="14.6" height="14.6" viewBox="0 0 24 24" fill="none"><path d="M7 2.5 H17 V5 H15.6 V11 L18.4 14 V16 H13.1 V21.5 L12 23 L10.9 21.5 V16 H5.6 V14 L8.4 11 V5 H7Z" fill="#334155"/></svg>
<span class="t" style="left:1076.80px;top:212.22px;font-size:10.6px;color:#374151;letter-spacing:-0.371px;-webkit-text-stroke:.12px;">Pin</span>
<svg class="abs" style="left:1054.00px;top:236.20px;" width="14.6" height="14.6" viewBox="0 0 24 24" fill="none"><rect x="3" y="4" width="18" height="16" rx="1.8" fill="#334155"/><text x="12" y="15" font-family="Liberation Sans" font-weight="700" font-size="7.5" text-anchor="middle" fill="#fff">PDF</text></svg>
<span class="t" style="left:1076.80px;top:238.22px;font-size:10.6px;color:#374151;letter-spacing:-0.284px;-webkit-text-stroke:.12px;">Export as PDF</span>
<svg class="abs" style="left:1054.00px;top:262.30px;" width="14.6" height="14.6" viewBox="0 0 24 24" fill="none"><path d="M3.5 12 H19.5 M13 5.2 L19.8 12 L13 18.8" stroke="#334155" stroke-width="2"/></svg>
<span class="t" style="left:1076.80px;top:264.32px;font-size:10.6px;color:#374151;letter-spacing:-0.177px;-webkit-text-stroke:.12px;">Move</span>
<svg class="abs" style="left:1054.00px;top:289.00px;" width="14.6" height="14.6" viewBox="0 0 24 24" fill="none"><path d="M3.2 3.6 L11.6 3.2 L21 12.6 Q21.8 13.4 21 14.2 L14.8 20.4 Q14 21.2 13.2 20.4 L3.6 10.8Z" stroke="#334155" stroke-width="1.9" stroke-linejoin="round"/><path d="M9 9 L14.4 14.4 M11.2 6.8 L16.6 12.2" stroke="#334155" stroke-width="1.4"/></svg>
<span class="t" style="left:1076.80px;top:291.02px;font-size:10.6px;color:#374151;letter-spacing:-0.203px;-webkit-text-stroke:.12px;">Labels</span>
<svg class="abs" style="left:1054.00px;top:315.20px;" width="14.6" height="14.6" viewBox="0 0 24 24" fill="none"><path d="M12 4.5V19.5M4.5 12H19.5" stroke="#334155" stroke-width="2"/></svg>
<span class="t" style="left:1076.80px;top:317.22px;font-size:10.6px;color:#374151;letter-spacing:-0.114px;-webkit-text-stroke:.12px;">Link to Issue</span>
<svg class="abs" style="left:1054.00px;top:341.50px;" width="14.6" height="14.6" viewBox="0 0 24 24" fill="none"><path d="M5 7.2 H19 M9 4 H15" stroke="#dc2626" stroke-width="2.2"/><path d="M6.8 7.5 V19 Q6.8 20.6 8.4 20.6 H15.6 Q17.2 20.6 17.2 19 V7.5" stroke="#dc2626" stroke-width="2"/></svg>
<span class="t" style="left:1076.80px;top:343.52px;font-size:10.6px;color:#dc2626;letter-spacing:-0.188px;-webkit-text-stroke:.12px;">Delete</span>
</div>
<div id="side">
<svg class="abs" style="left:0;top:0" width="55" height="720" viewBox="0 0 55 720" fill="none">
<!-- hamburger -->
<g fill="#fff"><rect x="17.5" y="23.5" width="18" height="3" rx="1.2"/><rect x="17.5" y="29.5" width="18" height="3" rx="1.2"/><rect x="17.5" y="35.5" width="18" height="3" rx="1.2"/></g>
<!-- check -->
<path d="M18.8 76.5 L23.6 81.2 L33.8 71" stroke="#a5b4fc" stroke-width="3.2" stroke-linecap="butt" stroke-linejoin="miter"/>
<!-- play circle -->
<circle cx="26" cy="115" r="8.6" stroke="#fff" stroke-width="1.9"/>
<path d="M23.6 111.2 L29.9 115 L23.6 118.8 Z" fill="#fff"/>
<!-- playlist check -->
<g stroke="#a5b4fc" stroke-width="1.8"><path d="M17 150 H30"/><path d="M17 154 H30"/><path d="M17 158 H25.5"/><path d="M26.5 158.3 L29.7 161.5 L35.6 155.4" stroke-width="1.7"/></g>
<!-- stairs -->
<path d="M17.5 200 V197 H21.5 V193.5 H25.5 V190 H29.5 V186.8 H35 V189.6 H32.2 V193 H28.2 V196.5 H24.2 V200 Z" fill="#a5b4fc"/>
<!-- pulse -->
<path d="M17.5 234 H22.2 L24.6 228.5 L27.6 238.5 L29.8 233 H34.5" stroke="#a5b4fc" stroke-width="1.8" stroke-linejoin="round"/>
<!-- import box -->
<path d="M17.2 268 V264.4 H34.8 V280.3 H17.2 V276.6" stroke="#a5b4fc" stroke-width="1.9"/>
<path d="M17.2 265 H34.8" stroke="#a5b4fc" stroke-width="2.6"/><path d="M16.5 272.4 H28" stroke="#a5b4fc" stroke-width="1.8"/><path d="M24.3 268.6 L28.2 272.4 L24.3 276.2" stroke="#a5b4fc" stroke-width="1.8"/>
<!-- chart box -->
<rect x="18.6" y="303.8" width="14.8" height="14.8" rx="1.5" stroke="#a5b4fc" stroke-width="1.8"/>
<g fill="#a5b4fc"><rect x="21.6" y="310.5" width="1.9" height="5.2"/><rect x="25.1" y="307" width="1.9" height="8.7"/><rect x="28.6" y="312.6" width="1.9" height="3.1"/></g>
<!-- fork -->
<g stroke="#a5b4fc" stroke-width="1.6"><circle cx="20.6" cy="344" r="1.8"/><circle cx="31.4" cy="344" r="1.8"/><circle cx="26" cy="356.6" r="1.8"/><path d="M21.6 345.6 L26 352 L30.4 345.6"/><path d="M26 352 V354.6"/></g>
<!-- gear -->
<g transform="translate(26 390.3)"><g fill="#a5b4fc"><circle r="7"/>
<rect x="-2" y="-9.2" width="4" height="18.4" rx="0.8"/>
<rect x="-2" y="-9.2" width="4" height="18.4" rx="0.8" transform="rotate(60)"/>
<rect x="-2" y="-9.2" width="4" height="18.4" rx="0.8" transform="rotate(120)"/></g>
<circle r="3" fill="#3730a3"/></g>
<!-- help -->
<circle cx="26" cy="611.8" r="8.2" stroke="#a5b4fc" stroke-width="1.6"/>
<path d="M23 609.4 C23 605.6 29 605.6 29 609.3 C29 611.6 26 611.6 26 614.2" stroke="#a5b4fc" stroke-width="1.6"/>
<circle cx="26" cy="616.8" r="1" fill="#a5b4fc"/>
<!-- folders -->
<path d="M16.4 646.5 V659 H32.5" stroke="#a5b4fc" stroke-width="1.8"/>
<path d="M19.6 644 Q19.6 642.5 21 642.5 H26 L28 644.5 H35 Q36.5 644.5 36.5 646 V654.5 Q36.5 656 35 656 H21 Q19.6 656 19.6 654.5 Z" fill="#a5b4fc"/>
<!-- avatar -->
<circle cx="26.5" cy="690.2" r="10.4" fill="#fff" stroke="#111" stroke-width="1.4"/>
<path d="M20.5 684.5 H30.3 V687.6 H28 V696.8 H24.3 V687.6 H20.5 Z" fill="#111"/>
<rect x="30.9" y="684.5" width="1.6" height="4.6" fill="#3b82f6"/>
</svg>
<div class="abs" style="left:2.2px;top:96px;width:46.6px;height:36.8px;border:2.3px solid #f03347;border-radius:1px"></div>
<div class="badge" style="left:42px;top:124.5px">1</div>
</div>
<div id="over">
<div class="abs" style="left:70.60px;top:592.20px;width:301.80px;height:30.50px;border:2.5px solid #f03347;border-radius:1px;box-shadow:0 1px 3px rgba(0,0,0,.12)"></div>
<svg class="abs" style="left:380.00px;top:598.00px;" width="52" height="22" viewBox="0 0 52 22" fill="none"><path d="M48.5 10.7 H5 M13.6 1.8 L4.4 10.7 L13.6 19.6" stroke="#f03347" stroke-width="3.6" stroke-linecap="round" stroke-linejoin="round"/></svg>
<div class="badge" style="left:436.3px;top:602.1px;width:15.8px;height:15.8px;line-height:15.8px;font-size:11.5px">2</div>
<div class="badge" style="left:1217.4px;top:27.9px">3</div>
<div class="abs" style="left:1042.40px;top:255.60px;width:182.40px;height:28.00px;border:2.3px solid #f03347;border-radius:1px;box-shadow:0 1px 3px rgba(0,0,0,.12)"></div>
<div class="badge" style="left:1215.2px;top:273.2px">4</div>
</div>
</div>
</body>
</html>
